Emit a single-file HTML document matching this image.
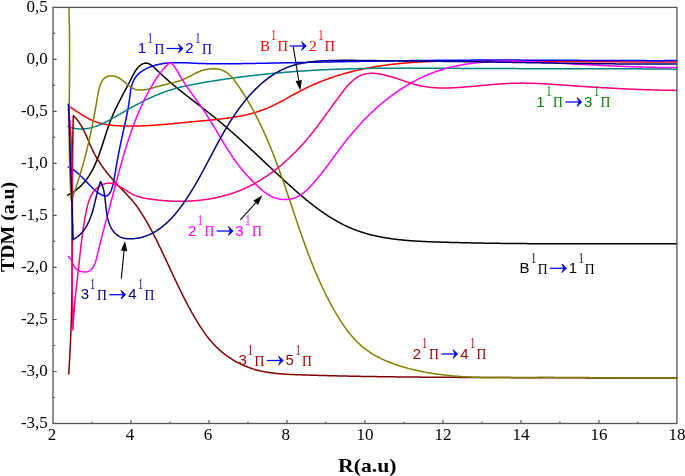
<!DOCTYPE html><html><head><meta charset="utf-8"><style>html,body{margin:0;padding:0;background:#fff;width:685px;height:476px;overflow:hidden}svg{display:block;will-change:transform}</style></head><body>
<svg width="685" height="476" viewBox="0 0 685 476">
<path d="M67.70,195.10L68.65,194.63L69.58,194.15L70.50,193.65L71.40,193.14L72.27,192.61L73.14,192.06L73.98,191.51L74.81,190.94L75.62,190.35L76.41,189.76L77.19,189.15L77.96,188.52L78.70,187.89L79.44,187.24L80.15,186.58L80.86,185.91L81.54,185.22L82.22,184.53L82.88,183.82L83.53,183.10L84.16,182.37L84.78,181.63L85.39,180.88L85.98,180.12L86.57,179.35L87.14,178.58L87.70,177.79L88.25,176.99L88.78,176.18L89.31,175.37L89.82,174.54L90.33,173.71L90.82,172.87L91.31,172.02L91.79,171.16L92.25,170.30L92.71,169.43L93.16,168.55L93.60,167.67L94.03,166.78L94.46,165.88L94.87,164.98L95.28,164.07L95.68,163.15L96.08,162.23L96.47,161.31L96.85,160.38L97.23,159.45L97.60,158.51L97.96,157.56L98.32,156.62L98.68,155.67L99.03,154.71L99.38,153.76L99.72,152.80L100.06,151.83L100.39,150.87L100.72,149.90L101.05,148.93L101.38,147.96L101.70,146.98L102.02,146.01L102.34,145.03L102.66,144.05L102.97,143.08L103.29,142.10L103.60,141.12L103.91,140.14L104.23,139.16L104.54,138.18L104.85,137.20L105.16,136.23L105.48,135.25L105.79,134.27L106.11,133.30L106.43,132.33L106.75,131.36L107.07,130.39L107.39,129.43L107.72,128.47L108.05,127.51L108.38,126.55L108.72,125.60L109.06,124.65L109.40,123.70L109.75,122.76L110.10,121.82L110.46,120.89L110.82,119.96L111.19,119.04L111.56,118.12L111.94,117.21L112.32,116.30L112.71,115.39L113.10,114.49L113.49,113.59L113.89,112.69L114.30,111.80L114.70,110.91L115.12,110.02L115.53,109.13L115.95,108.25L116.37,107.37L116.80,106.49L117.23,105.61L117.66,104.73L118.10,103.86L118.54,102.98L118.98,102.11L119.43,101.23L119.88,100.36L120.33,99.49L120.78,98.61L121.24,97.74L121.69,96.86L122.15,95.99L122.62,95.11L123.08,94.23L123.54,93.35L124.01,92.47L124.48,91.59L124.95,90.71L125.42,89.82L125.90,88.93L126.37,88.04L126.85,87.14L127.32,86.24L127.80,85.34L128.28,84.43L128.75,83.52L129.23,82.61L129.71,81.69L130.19,80.77L130.67,79.85L131.15,78.91L131.63,77.98L132.11,77.04L132.59,76.09L133.07,75.15L133.57,74.22L134.07,73.30L134.58,72.39L135.11,71.49L135.65,70.62L136.21,69.78L136.79,68.97L137.40,68.18L138.03,67.44L138.69,66.74L139.37,66.08L140.10,65.48L140.85,64.92L141.65,64.43L142.48,63.99L143.35,63.63L144.23,63.35L145.13,63.17L146.03,63.10L146.92,63.16L147.79,63.35L148.65,63.64L149.49,64.03L150.32,64.51L151.14,65.06L151.95,65.67L152.75,66.33L153.54,67.02L154.32,67.74L155.09,68.46L155.86,69.19L156.63,69.90L157.38,70.62L158.14,71.32L158.89,72.02L159.64,72.72L160.38,73.40L161.12,74.09L161.86,74.77L162.60,75.44L163.33,76.11L164.06,76.78L164.80,77.44L165.53,78.10L166.27,78.76L167.00,79.41L167.74,80.06L168.47,80.71L169.21,81.36L169.95,82.00L170.70,82.64L171.45,83.29L172.20,83.92L172.95,84.56L173.71,85.20L174.47,85.83L175.23,86.47L176.00,87.10L176.77,87.73L177.54,88.36L178.31,88.99L179.09,89.62L179.86,90.25L180.64,90.87L181.43,91.50L182.21,92.12L183.00,92.75L183.78,93.37L184.57,93.99L185.36,94.62L186.16,95.24L186.95,95.86L187.75,96.48L188.54,97.10L189.34,97.72L190.14,98.34L190.94,98.96L191.74,99.57L192.54,100.19L193.34,100.81L194.14,101.43L194.94,102.05L195.75,102.67L196.55,103.28L197.35,103.90L198.16,104.52L198.96,105.14L199.76,105.76L200.57,106.38L201.37,107.00L202.17,107.62L202.97,108.24L203.77,108.86L204.57,109.48L205.37,110.10L206.17,110.73L206.97,111.35L207.77,111.97L208.56,112.60L209.35,113.23L210.15,113.85L210.94,114.48L211.73,115.11L212.52,115.74L213.30,116.37L214.09,117.00L214.87,117.64L215.65,118.27L216.43,118.91L217.21,119.54L217.98,120.18L218.75,120.82L219.53,121.46L220.30,122.10L221.06,122.75L221.83,123.39L222.60,124.03L223.36,124.68L224.12,125.33L224.88,125.97L225.64,126.62L226.40,127.27L227.15,127.92L227.91,128.58L228.66,129.23L229.41,129.88L230.17,130.54L230.91,131.19L231.66,131.85L232.41,132.50L233.16,133.16L233.90,133.82L234.64,134.48L235.39,135.14L236.13,135.80L236.87,136.47L237.61,137.13L238.35,137.79L239.08,138.46L239.82,139.12L240.56,139.79L241.29,140.46L242.03,141.12L242.76,141.79L243.49,142.46L244.23,143.13L244.96,143.80L245.69,144.47L246.42,145.14L247.15,145.81L247.88,146.49L248.61,147.16L249.33,147.83L250.06,148.51L250.79,149.18L251.52,149.86L252.24,150.53L252.97,151.21L253.70,151.89L254.42,152.56L255.15,153.24L255.87,153.92L256.60,154.60L257.32,155.28L258.05,155.95L258.77,156.63L259.50,157.31L260.22,157.99L260.95,158.67L261.68,159.36L262.40,160.04L263.13,160.72L263.85,161.40L264.58,162.08L265.30,162.77L266.03,163.45L266.76,164.13L267.48,164.81L268.21,165.50L268.94,166.18L269.67,166.86L270.40,167.55L271.13,168.23L271.86,168.92L272.59,169.60L273.32,170.28L274.05,170.97L274.78,171.65L275.51,172.34L276.25,173.02L276.98,173.71L277.72,174.39L278.45,175.07L279.19,175.76L279.93,176.44L280.66,177.13L281.40,177.81L282.14,178.50L282.89,179.18L283.63,179.86L284.37,180.55L285.12,181.23L285.86,181.92L286.61,182.60L287.36,183.28L288.11,183.96L288.86,184.65L289.61,185.33L290.36,186.01L291.11,186.69L291.87,187.36L292.63,188.04L293.38,188.72L294.14,189.39L294.90,190.07L295.67,190.74L296.43,191.41L297.19,192.08L297.96,192.75L298.73,193.41L299.50,194.08L300.27,194.74L301.04,195.40L301.81,196.06L302.59,196.71L303.37,197.37L304.14,198.02L304.92,198.67L305.71,199.31L306.49,199.96L307.27,200.60L308.06,201.24L308.85,201.87L309.64,202.50L310.43,203.13L311.23,203.76L312.02,204.38L312.82,205.01L313.62,205.62L314.42,206.24L315.22,206.85L316.03,207.45L316.84,208.05L317.65,208.65L318.46,209.25L319.27,209.84L320.08,210.43L320.90,211.01L321.72,211.59L322.54,212.16L323.37,212.73L324.19,213.30L325.02,213.86L325.85,214.42L326.68,214.97L327.51,215.52L328.35,216.06L329.19,216.59L330.03,217.13L330.87,217.65L331.72,218.18L332.57,218.69L333.42,219.20L334.27,219.71L335.12,220.21L335.98,220.70L336.84,221.19L337.70,221.67L338.57,222.15L339.44,222.62L340.31,223.09L341.18,223.54L342.05,224.00L342.93,224.44L343.81,224.88L344.69,225.32L345.58,225.74L346.47,226.16L347.36,226.58L348.25,226.98L349.15,227.38L350.05,227.77L350.95,228.16L351.85,228.54L352.76,228.91L353.67,229.27L354.58,229.63L355.50,229.98L356.42,230.32L357.34,230.65L358.26,230.98L359.19,231.30L360.12,231.62L361.05,231.93L361.98,232.23L362.92,232.53L363.86,232.82L364.80,233.10L365.74,233.38L366.69,233.65L367.63,233.91L368.58,234.17L369.54,234.42L370.49,234.67L371.45,234.91L372.40,235.15L373.36,235.38L374.33,235.60L375.29,235.82L376.26,236.03L377.23,236.24L378.20,236.45L379.17,236.65L380.14,236.84L381.12,237.03L382.09,237.21L383.07,237.39L384.05,237.56L385.04,237.73L386.02,237.90L387.00,238.06L387.99,238.21L388.98,238.36L389.97,238.51L390.96,238.65L391.95,238.79L392.95,238.93L393.94,239.06L394.94,239.18L395.93,239.31L396.93,239.43L397.93,239.54L398.93,239.65L399.94,239.76L400.94,239.87L401.94,239.97L402.95,240.07L403.95,240.16L404.96,240.25L405.97,240.34L406.98,240.43L407.99,240.51L409.00,240.59L410.01,240.67L411.02,240.75L412.03,240.82L413.04,240.89L414.06,240.96L415.07,241.02L416.09,241.08L417.10,241.14L418.12,241.20L419.13,241.26L420.15,241.31L421.17,241.37L422.18,241.42L423.20,241.47L424.22,241.51L425.24,241.56L426.25,241.60L427.27,241.65L428.29,241.69L429.31,241.73L430.33,241.77L431.34,241.81L432.36,241.84L433.38,241.88L434.40,241.91L435.42,241.95L436.43,241.98L437.45,242.02L438.47,242.05L439.48,242.08L440.50,242.11L441.52,242.14L442.53,242.17L443.55,242.20L444.56,242.23L445.58,242.26L446.59,242.29L447.61,242.32L448.62,242.35L449.63,242.38L450.65,242.41L451.66,242.43L452.67,242.46L453.68,242.49L454.70,242.51L455.71,242.54L456.72,242.56L457.73,242.59L458.74,242.61L459.75,242.64L460.76,242.66L461.77,242.69L462.78,242.71L463.79,242.73L464.80,242.76L465.81,242.78L466.81,242.80L467.82,242.82L468.83,242.84L469.84,242.87L470.85,242.89L471.85,242.91L472.86,242.93L473.87,242.95L474.87,242.97L475.88,242.99L476.88,243.01L477.89,243.02L478.89,243.04L479.90,243.06L480.90,243.08L481.91,243.10L482.91,243.11L483.92,243.13L484.92,243.15L485.93,243.16L486.93,243.18L487.93,243.20L488.93,243.21L489.94,243.23L490.94,243.24L491.94,243.26L492.95,243.27L493.95,243.29L494.95,243.30L495.95,243.31L496.95,243.33L497.95,243.34L498.95,243.35L499.96,243.37L500.96,243.38L501.96,243.39L502.96,243.40L503.96,243.41L504.96,243.43L505.96,243.44L506.96,243.45L507.96,243.46L508.96,243.47L509.96,243.48L510.96,243.49L511.95,243.50L512.95,243.51L513.95,243.52L514.95,243.53L515.95,243.54L516.95,243.54L517.95,243.55L518.94,243.56L519.94,243.57L520.94,243.58L521.94,243.59L522.93,243.59L523.93,243.60L524.93,243.61L525.93,243.61L526.92,243.62L527.92,243.63L528.92,243.63L529.91,243.64L530.91,243.65L531.91,243.65L532.91,243.66L533.90,243.66L534.90,243.67L535.89,243.67L536.89,243.68L537.89,243.68L538.88,243.69L539.88,243.69L540.88,243.70L541.87,243.70L542.87,243.71L543.86,243.71L544.86,243.71L545.86,243.72L546.85,243.72L547.85,243.72L548.84,243.73L549.84,243.73L550.83,243.73L551.83,243.74L552.82,243.74L553.82,243.74L554.82,243.74L555.81,243.75L556.81,243.75L557.80,243.75L558.80,243.75L559.79,243.75L560.79,243.75L561.78,243.76L562.78,243.76L563.78,243.76L564.77,243.76L565.77,243.76L566.76,243.76L567.76,243.76L568.75,243.76L569.75,243.77L570.74,243.77L571.74,243.77L572.73,243.77L573.73,243.77L574.73,243.77L575.72,243.77L576.72,243.77L577.71,243.77L578.71,243.77L579.71,243.77L580.70,243.77L581.70,243.77L582.69,243.77L583.69,243.77L584.69,243.77L585.68,243.77L586.68,243.77L587.68,243.77L588.67,243.77L589.67,243.76L590.66,243.76L591.66,243.76L592.66,243.76L593.66,243.76L594.65,243.76L595.65,243.76L596.65,243.76L597.64,243.76L598.64,243.76L599.64,243.76L600.64,243.76L601.63,243.76L602.63,243.75L603.63,243.75L604.63,243.75L605.63,243.75L606.63,243.75L607.62,243.75L608.62,243.75L609.62,243.75L610.62,243.75L611.62,243.75L612.62,243.74L613.62,243.74L614.62,243.74L615.62,243.74L616.62,243.74L617.62,243.74L618.62,243.74L619.62,243.74L620.62,243.74L621.62,243.74L622.62,243.74L623.62,243.73L624.62,243.73L625.62,243.73L626.62,243.73L627.63,243.73L628.63,243.73L629.63,243.73L630.63,243.73L631.63,243.73L632.64,243.73L633.64,243.73L634.64,243.73L635.65,243.73L636.65,243.73L637.65,243.73L638.66,243.73L639.66,243.73L640.67,243.73L641.67,243.73L642.68,243.73L643.68,243.73L644.69,243.73L645.69,243.73L646.70,243.73L647.70,243.73L648.71,243.73L649.72,243.73L650.72,243.73L651.73,243.74L652.74,243.74L653.75,243.74L654.75,243.74L655.76,243.74L656.77,243.74L657.78,243.74L658.79,243.75L659.80,243.75L660.81,243.75L661.82,243.75L662.83,243.75L663.84,243.76L664.85,243.76L665.86,243.76L666.87,243.76L667.88,243.77L668.89,243.77L669.91,243.77L670.92,243.78L671.93,243.78L672.95,243.78L673.96,243.79L674.97,243.79L675.99,243.80L677.00,243.80" fill="none" stroke="#000000" stroke-width="1.5" stroke-linejoin="round" stroke-linecap="round"/>
<path d="M69.70,106.80L70.55,107.35L71.39,107.90L72.24,108.46L73.08,109.02L73.93,109.58L74.78,110.14L75.63,110.70L76.48,111.26L77.33,111.83L78.18,112.38L79.03,112.94L79.89,113.49L80.75,114.04L81.61,114.58L82.47,115.12L83.33,115.64L84.20,116.17L85.07,116.68L85.95,117.18L86.83,117.67L87.71,118.15L88.59,118.62L89.48,119.08L90.38,119.52L91.28,119.95L92.18,120.36L93.09,120.76L94.00,121.14L94.92,121.50L95.84,121.84L96.77,122.17L97.70,122.48L98.64,122.77L99.58,123.04L100.53,123.30L101.48,123.54L102.44,123.77L103.40,123.98L104.36,124.18L105.33,124.36L106.30,124.53L107.27,124.69L108.25,124.84L109.23,124.97L110.21,125.10L111.19,125.21L112.18,125.31L113.17,125.41L114.16,125.50L115.15,125.57L116.14,125.64L117.13,125.71L118.13,125.76L119.12,125.81L120.12,125.86L121.11,125.90L122.11,125.93L123.11,125.96L124.10,125.99L125.10,126.01L126.10,126.03L127.09,126.05L128.09,126.06L129.08,126.06L130.08,126.07L131.08,126.07L132.07,126.06L133.07,126.06L134.07,126.05L135.06,126.03L136.06,126.01L137.06,125.99L138.05,125.97L139.05,125.94L140.05,125.91L141.04,125.88L142.04,125.85L143.04,125.81L144.03,125.77L145.03,125.72L146.03,125.68L147.02,125.63L148.02,125.57L149.02,125.52L150.02,125.46L151.01,125.40L152.01,125.34L153.01,125.28L154.01,125.21L155.01,125.15L156.00,125.08L157.00,125.01L158.00,124.93L159.00,124.86L160.00,124.78L161.00,124.70L161.99,124.62L162.99,124.54L163.99,124.46L164.99,124.37L165.99,124.29L166.99,124.20L167.99,124.11L168.99,124.02L169.99,123.93L170.99,123.84L171.99,123.75L172.99,123.65L173.99,123.56L175.00,123.46L176.00,123.37L177.00,123.27L178.00,123.17L179.00,123.08L180.00,122.98L181.01,122.88L182.01,122.78L183.01,122.68L184.01,122.59L185.02,122.49L186.02,122.39L187.02,122.29L188.03,122.19L189.03,122.09L190.04,121.99L191.04,121.89L192.05,121.80L193.05,121.70L194.06,121.60L195.06,121.50L196.07,121.41L197.07,121.31L198.08,121.22L199.09,121.13L200.09,121.03L201.10,120.94L202.11,120.85L203.12,120.75L204.12,120.66L205.13,120.57L206.14,120.47L207.14,120.38L208.15,120.28L209.16,120.19L210.16,120.09L211.17,119.99L212.17,119.89L213.18,119.79L214.18,119.69L215.19,119.59L216.19,119.48L217.20,119.38L218.20,119.27L219.20,119.16L220.20,119.05L221.20,118.93L222.20,118.81L223.20,118.69L224.20,118.57L225.19,118.44L226.19,118.32L227.19,118.18L228.18,118.05L229.17,117.91L230.16,117.77L231.16,117.62L232.14,117.47L233.13,117.32L234.12,117.16L235.10,117.00L236.09,116.83L237.07,116.66L238.05,116.49L239.03,116.31L240.01,116.12L240.99,115.93L241.96,115.74L242.93,115.54L243.91,115.33L244.88,115.12L245.84,114.91L246.81,114.68L247.77,114.45L248.74,114.22L249.70,113.98L250.65,113.73L251.61,113.48L252.56,113.22L253.51,112.95L254.46,112.68L255.41,112.40L256.36,112.11L257.30,111.82L258.24,111.52L259.18,111.21L260.11,110.89L261.04,110.57L261.97,110.23L262.90,109.89L263.83,109.54L264.75,109.19L265.67,108.82L266.58,108.45L267.50,108.07L268.41,107.67L269.32,107.28L270.22,106.87L271.13,106.46L272.03,106.03L272.93,105.61L273.83,105.17L274.72,104.73L275.62,104.29L276.51,103.84L277.40,103.38L278.29,102.92L279.18,102.46L280.07,101.99L280.95,101.52L281.84,101.04L282.73,100.56L283.61,100.08L284.50,99.60L285.38,99.11L286.26,98.62L287.15,98.14L288.03,97.65L288.92,97.16L289.80,96.67L290.69,96.18L291.58,95.69L292.46,95.20L293.35,94.71L294.24,94.22L295.13,93.74L296.02,93.26L296.92,92.78L297.81,92.30L298.71,91.82L299.61,91.35L300.51,90.89L301.41,90.42L302.31,89.96L303.22,89.51L304.13,89.06L305.04,88.61L305.95,88.16L306.86,87.72L307.78,87.29L308.69,86.86L309.61,86.43L310.53,86.01L311.46,85.59L312.38,85.17L313.30,84.76L314.23,84.36L315.16,83.95L316.09,83.55L317.02,83.16L317.95,82.77L318.89,82.38L319.82,82.00L320.76,81.62L321.69,81.25L322.63,80.88L323.57,80.52L324.51,80.16L325.45,79.80L326.40,79.45L327.34,79.10L328.28,78.76L329.23,78.42L330.18,78.08L331.12,77.75L332.07,77.43L333.02,77.10L333.97,76.78L334.92,76.47L335.87,76.16L336.82,75.86L337.78,75.55L338.73,75.26L339.69,74.96L340.64,74.67L341.60,74.39L342.56,74.11L343.51,73.83L344.47,73.55L345.43,73.28L346.39,73.02L347.35,72.75L348.32,72.50L349.28,72.24L350.24,71.99L351.21,71.74L352.17,71.50L353.14,71.26L354.10,71.02L355.07,70.79L356.04,70.56L357.01,70.33L357.98,70.11L358.95,69.89L359.92,69.68L360.89,69.46L361.86,69.25L362.83,69.05L363.81,68.85L364.78,68.65L365.76,68.45L366.73,68.26L367.71,68.07L368.68,67.89L369.66,67.70L370.64,67.52L371.62,67.35L372.60,67.17L373.58,67.00L374.56,66.84L375.54,66.67L376.52,66.51L377.50,66.35L378.48,66.20L379.47,66.05L380.45,65.90L381.44,65.75L382.42,65.61L383.41,65.47L384.39,65.33L385.38,65.19L386.36,65.06L387.35,64.93L388.34,64.81L389.33,64.68L390.32,64.56L391.31,64.44L392.30,64.32L393.29,64.21L394.28,64.10L395.27,63.99L396.26,63.88L397.25,63.78L398.25,63.68L399.24,63.58L400.23,63.48L401.23,63.39L402.22,63.29L403.22,63.20L404.21,63.12L405.21,63.03L406.20,62.95L407.20,62.87L408.20,62.79L409.20,62.71L410.19,62.64L411.19,62.56L412.19,62.49L413.19,62.42L414.19,62.36L415.19,62.29L416.19,62.23L417.19,62.17L418.19,62.11L419.19,62.05L420.19,62.00L421.19,61.95L422.19,61.89L423.19,61.84L424.19,61.80L425.20,61.75L426.20,61.71L427.20,61.66L428.20,61.62L429.21,61.58L430.21,61.54L431.22,61.51L432.22,61.47L433.22,61.44L434.23,61.41L435.23,61.37L436.24,61.34L437.24,61.32L438.25,61.29L439.25,61.27L440.26,61.24L441.26,61.22L442.27,61.20L443.28,61.18L444.28,61.16L445.29,61.14L446.30,61.12L447.30,61.11L448.31,61.09L449.32,61.08L450.32,61.07L451.33,61.06L452.34,61.05L453.34,61.04L454.35,61.03L455.36,61.02L456.37,61.01L457.37,61.01L458.38,61.00L459.39,61.00L460.40,60.99L461.40,60.99L462.41,60.99L463.42,60.99L464.43,60.99L465.43,60.99L466.44,60.99L467.45,60.99L468.46,60.99L469.47,60.99L470.47,61.00L471.48,61.00L472.49,61.00L473.50,61.01L474.50,61.01L475.51,61.02L476.52,61.02L477.53,61.03L478.53,61.03L479.54,61.04L480.55,61.05L481.56,61.05L482.56,61.06L483.57,61.07L484.58,61.07L485.58,61.08L486.59,61.09L487.60,61.10L488.60,61.10L489.61,61.11L490.61,61.12L491.62,61.13L492.63,61.13L493.63,61.14L494.64,61.15L495.64,61.16L496.65,61.16L497.65,61.17L498.66,61.18L499.66,61.19L500.67,61.19L501.67,61.20L502.68,61.21L503.68,61.21L504.68,61.22L505.69,61.23L506.69,61.24L507.70,61.24L508.70,61.25L509.70,61.26L510.71,61.26L511.71,61.27L512.71,61.28L513.72,61.28L514.72,61.29L515.72,61.30L516.72,61.30L517.73,61.31L518.73,61.32L519.73,61.32L520.73,61.33L521.74,61.34L522.74,61.34L523.74,61.35L524.74,61.36L525.74,61.36L526.74,61.37L527.75,61.38L528.75,61.38L529.75,61.39L530.75,61.39L531.75,61.40L532.75,61.41L533.75,61.41L534.76,61.42L535.76,61.43L536.76,61.43L537.76,61.44L538.76,61.44L539.76,61.45L540.76,61.46L541.76,61.46L542.76,61.47L543.76,61.47L544.76,61.48L545.76,61.49L546.76,61.49L547.76,61.50L548.76,61.50L549.76,61.51L550.76,61.52L551.76,61.52L552.76,61.53L553.76,61.53L554.76,61.54L555.76,61.54L556.76,61.55L557.76,61.56L558.76,61.56L559.76,61.57L560.76,61.57L561.76,61.58L562.76,61.58L563.76,61.59L564.76,61.59L565.76,61.60L566.76,61.61L567.76,61.61L568.76,61.62L569.76,61.62L570.76,61.63L571.76,61.63L572.76,61.64L573.76,61.64L574.76,61.65L575.76,61.65L576.76,61.66L577.75,61.66L578.75,61.67L579.75,61.67L580.75,61.68L581.75,61.68L582.75,61.69L583.75,61.70L584.75,61.70L585.75,61.71L586.75,61.71L587.75,61.72L588.75,61.72L589.75,61.73L590.75,61.73L591.75,61.74L592.75,61.74L593.75,61.74L594.75,61.75L595.75,61.75L596.75,61.76L597.75,61.76L598.75,61.77L599.75,61.77L600.75,61.78L601.75,61.78L602.75,61.79L603.75,61.79L604.75,61.80L605.75,61.80L606.75,61.81L607.75,61.81L608.75,61.82L609.75,61.82L610.75,61.83L611.75,61.83L612.75,61.83L613.75,61.84L614.75,61.84L615.75,61.85L616.75,61.85L617.75,61.86L618.76,61.86L619.76,61.87L620.76,61.87L621.76,61.88L622.76,61.88L623.76,61.88L624.76,61.89L625.77,61.89L626.77,61.90L627.77,61.90L628.77,61.91L629.77,61.91L630.77,61.91L631.78,61.92L632.78,61.92L633.78,61.93L634.78,61.93L635.79,61.94L636.79,61.94L637.79,61.94L638.79,61.95L639.80,61.95L640.80,61.96L641.80,61.96L642.81,61.97L643.81,61.97L644.81,61.97L645.82,61.98L646.82,61.98L647.83,61.99L648.83,61.99L649.83,61.99L650.84,62.00L651.84,62.00L652.85,62.01L653.85,62.01L654.86,62.01L655.86,62.02L656.87,62.02L657.87,62.03L658.88,62.03L659.88,62.03L660.89,62.04L661.89,62.04L662.90,62.05L663.91,62.05L664.91,62.05L665.92,62.06L666.93,62.06L667.93,62.07L668.94,62.07L669.95,62.07L670.95,62.08L671.96,62.08L672.97,62.08L673.98,62.09L674.98,62.09L675.99,62.10L677.00,62.10" fill="none" stroke="#FF0000" stroke-width="1.5" stroke-linejoin="round" stroke-linecap="round"/>
<path d="M68.40,167.10L69.24,167.44L70.08,167.82L70.91,168.23L71.73,168.69L72.54,169.17L73.34,169.69L74.14,170.24L74.94,170.81L75.72,171.42L76.50,172.04L77.28,172.70L78.05,173.37L78.81,174.06L79.58,174.77L80.33,175.50L81.09,176.23L81.84,176.99L82.59,177.75L83.34,178.52L84.09,179.30L84.83,180.08L85.58,180.87L86.32,181.66L87.06,182.45L87.81,183.23L88.55,184.01L89.30,184.79L90.04,185.56L90.79,186.32L91.54,187.07L92.30,187.80L93.05,188.53L93.81,189.23L94.58,189.92L95.34,190.58L96.12,191.23L96.89,191.85L97.68,192.44L98.47,193.01L99.26,193.55L100.06,194.05L100.85,194.52L101.65,194.93L102.43,195.28L103.20,195.57L103.96,195.78L104.70,195.92L105.42,195.96L106.11,195.92L106.77,195.77L107.40,195.51L108.00,195.14L108.56,194.67L109.08,194.10L109.58,193.44L110.05,192.70L110.48,191.89L110.89,191.02L111.28,190.09L111.64,189.11L111.97,188.10L112.29,187.06L112.59,186.00L112.86,184.92L113.12,183.84L113.37,182.76L113.60,181.69L113.82,180.63L114.02,179.57L114.22,178.52L114.41,177.47L114.59,176.43L114.77,175.39L114.94,174.36L115.11,173.33L115.27,172.30L115.44,171.28L115.61,170.26L115.78,169.25L115.95,168.23L116.12,167.22L116.29,166.22L116.47,165.21L116.64,164.21L116.82,163.22L117.00,162.22L117.18,161.23L117.36,160.24L117.54,159.25L117.73,158.26L117.91,157.28L118.10,156.29L118.28,155.31L118.47,154.34L118.66,153.36L118.85,152.38L119.05,151.41L119.24,150.44L119.43,149.47L119.63,148.50L119.82,147.53L120.02,146.56L120.22,145.60L120.42,144.63L120.62,143.67L120.82,142.71L121.02,141.74L121.23,140.78L121.43,139.82L121.64,138.86L121.84,137.90L122.05,136.94L122.26,135.98L122.47,135.02L122.68,134.06L122.89,133.10L123.10,132.14L123.31,131.18L123.53,130.21L123.74,129.25L123.96,128.29L124.17,127.33L124.39,126.36L124.60,125.40L124.82,124.43L125.03,123.47L125.25,122.50L125.46,121.53L125.67,120.56L125.88,119.58L126.09,118.61L126.30,117.63L126.50,116.65L126.71,115.67L126.91,114.69L127.10,113.70L127.30,112.71L127.49,111.72L127.68,110.72L127.86,109.72L128.04,108.72L128.22,107.71L128.39,106.70L128.55,105.69L128.72,104.68L128.87,103.66L129.03,102.63L129.17,101.60L129.31,100.57L129.45,99.53L129.58,98.49L129.71,97.45L129.84,96.41L129.98,95.37L130.12,94.33L130.26,93.30L130.41,92.27L130.57,91.24L130.74,90.23L130.93,89.22L131.13,88.22L131.35,87.23L131.59,86.26L131.84,85.30L132.12,84.35L132.43,83.42L132.76,82.51L133.12,81.61L133.51,80.74L133.93,79.88L134.38,79.05L134.87,78.24L135.40,77.46L135.96,76.70L136.55,75.96L137.18,75.25L137.84,74.56L138.53,73.90L139.24,73.25L139.98,72.63L140.75,72.03L141.54,71.45L142.35,70.90L143.18,70.36L144.04,69.85L144.91,69.36L145.80,68.89L146.70,68.44L147.62,68.00L148.55,67.59L149.49,67.20L150.44,66.83L151.40,66.47L152.37,66.13L153.34,65.82L154.32,65.52L155.30,65.24L156.28,64.97L157.26,64.72L158.25,64.49L159.23,64.28L160.22,64.08L161.20,63.90L162.19,63.73L163.18,63.57L164.17,63.43L165.16,63.30L166.15,63.19L167.15,63.09L168.14,62.99L169.13,62.91L170.13,62.85L171.13,62.79L172.12,62.74L173.12,62.70L174.12,62.67L175.12,62.65L176.12,62.63L177.12,62.63L178.12,62.63L179.12,62.64L180.12,62.65L181.12,62.67L182.12,62.69L183.13,62.72L184.13,62.75L185.13,62.79L186.14,62.83L187.14,62.87L188.14,62.92L189.15,62.96L190.15,63.01L191.16,63.06L192.16,63.11L193.17,63.16L194.17,63.21L195.18,63.26L196.18,63.30L197.18,63.34L198.19,63.39L199.19,63.43L200.20,63.46L201.20,63.50L202.20,63.53L203.21,63.56L204.21,63.59L205.21,63.62L206.22,63.64L207.22,63.66L208.22,63.69L209.22,63.71L210.23,63.72L211.23,63.74L212.23,63.75L213.23,63.77L214.24,63.78L215.24,63.79L216.24,63.80L217.24,63.80L218.25,63.81L219.25,63.81L220.25,63.81L221.25,63.81L222.25,63.81L223.25,63.81L224.26,63.81L225.26,63.81L226.26,63.80L227.26,63.80L228.26,63.79L229.26,63.78L230.27,63.77L231.27,63.77L232.27,63.75L233.27,63.74L234.27,63.73L235.27,63.72L236.27,63.71L237.27,63.69L238.27,63.68L239.28,63.66L240.28,63.65L241.28,63.63L242.28,63.62L243.28,63.60L244.28,63.58L245.28,63.56L246.28,63.55L247.28,63.53L248.28,63.51L249.28,63.49L250.29,63.48L251.29,63.46L252.29,63.44L253.29,63.42L254.29,63.40L255.29,63.38L256.29,63.37L257.29,63.35L258.29,63.33L259.29,63.31L260.30,63.29L261.30,63.27L262.30,63.25L263.30,63.23L264.30,63.22L265.30,63.20L266.30,63.18L267.30,63.16L268.30,63.14L269.31,63.12L270.31,63.10L271.31,63.08L272.31,63.06L273.31,63.04L274.31,63.03L275.31,63.01L276.31,62.99L277.32,62.97L278.32,62.95L279.32,62.93L280.32,62.91L281.32,62.89L282.32,62.87L283.32,62.85L284.32,62.83L285.32,62.81L286.33,62.79L287.33,62.77L288.33,62.75L289.33,62.74L290.33,62.72L291.33,62.70L292.33,62.68L293.33,62.66L294.34,62.64L295.34,62.62L296.34,62.60L297.34,62.58L298.34,62.56L299.34,62.54L300.34,62.52L301.35,62.50L302.35,62.48L303.35,62.46L304.35,62.44L305.35,62.42L306.35,62.40L307.35,62.38L308.36,62.36L309.36,62.35L310.36,62.33L311.36,62.31L312.36,62.29L313.36,62.27L314.36,62.25L315.37,62.23L316.37,62.21L317.37,62.19L318.37,62.17L319.37,62.15L320.37,62.13L321.37,62.11L322.38,62.09L323.38,62.07L324.38,62.05L325.38,62.04L326.38,62.02L327.38,62.00L328.38,61.98L329.39,61.96L330.39,61.94L331.39,61.92L332.39,61.90L333.39,61.88L334.39,61.86L335.40,61.85L336.40,61.83L337.40,61.81L338.40,61.79L339.40,61.77L340.40,61.75L341.40,61.73L342.41,61.71L343.41,61.70L344.41,61.68L345.41,61.66L346.41,61.64L347.41,61.62L348.42,61.60L349.42,61.59L350.42,61.57L351.42,61.55L352.42,61.53L353.42,61.51L354.43,61.50L355.43,61.48L356.43,61.46L357.43,61.44L358.43,61.42L359.43,61.41L360.44,61.39L361.44,61.37L362.44,61.36L363.44,61.34L364.44,61.32L365.44,61.30L366.45,61.29L367.45,61.27L368.45,61.25L369.45,61.24L370.45,61.22L371.45,61.20L372.46,61.19L373.46,61.17L374.46,61.15L375.46,61.14L376.46,61.12L377.46,61.10L378.47,61.09L379.47,61.07L380.47,61.06L381.47,61.04L382.47,61.02L383.47,61.01L384.48,60.99L385.48,60.98L386.48,60.96L387.48,60.95L388.48,60.93L389.49,60.92L390.49,60.90L391.49,60.89L392.49,60.87L393.49,60.86L394.49,60.84L395.50,60.83L396.50,60.81L397.50,60.80L398.50,60.78L399.50,60.77L400.50,60.76L401.51,60.74L402.51,60.73L403.51,60.72L404.51,60.70L405.51,60.69L406.52,60.68L407.52,60.66L408.52,60.65L409.52,60.64L410.52,60.62L411.52,60.61L412.53,60.60L413.53,60.59L414.53,60.57L415.53,60.56L416.53,60.55L417.53,60.54L418.54,60.53L419.54,60.51L420.54,60.50L421.54,60.49L422.54,60.48L423.55,60.47L424.55,60.46L425.55,60.45L426.55,60.44L427.55,60.43L428.55,60.42L429.56,60.41L430.56,60.40L431.56,60.39L432.56,60.38L433.56,60.37L434.57,60.36L435.57,60.35L436.57,60.34L437.57,60.33L438.57,60.32L439.57,60.31L440.58,60.30L441.58,60.30L442.58,60.29L443.58,60.28L444.58,60.27L445.59,60.26L446.59,60.26L447.59,60.25L448.59,60.24L449.59,60.23L450.59,60.23L451.60,60.22L452.60,60.21L453.60,60.21L454.60,60.20L455.60,60.20L456.61,60.19L457.61,60.18L458.61,60.18L459.61,60.17L460.61,60.17L461.61,60.16L462.62,60.16L463.62,60.15L464.62,60.15L465.62,60.14L466.62,60.14L467.63,60.14L468.63,60.13L469.63,60.13L470.63,60.13L471.63,60.12L472.63,60.12L473.64,60.12L474.64,60.11L475.64,60.11L476.64,60.11L477.64,60.11L478.65,60.10L479.65,60.10L480.65,60.10L481.65,60.10L482.65,60.10L483.65,60.09L484.66,60.09L485.66,60.09L486.66,60.09L487.66,60.09L488.66,60.09L489.67,60.09L490.67,60.09L491.67,60.09L492.67,60.09L493.67,60.09L494.67,60.09L495.68,60.09L496.68,60.09L497.68,60.09L498.68,60.09L499.68,60.09L500.68,60.09L501.69,60.09L502.69,60.09L503.69,60.09L504.69,60.09L505.69,60.09L506.70,60.10L507.70,60.10L508.70,60.10L509.70,60.10L510.70,60.10L511.70,60.10L512.71,60.11L513.71,60.11L514.71,60.11L515.71,60.11L516.71,60.12L517.72,60.12L518.72,60.12L519.72,60.12L520.72,60.13L521.72,60.13L522.72,60.13L523.73,60.13L524.73,60.14L525.73,60.14L526.73,60.14L527.73,60.15L528.73,60.15L529.74,60.15L530.74,60.16L531.74,60.16L532.74,60.16L533.74,60.17L534.75,60.17L535.75,60.18L536.75,60.18L537.75,60.18L538.75,60.19L539.75,60.19L540.76,60.20L541.76,60.20L542.76,60.20L543.76,60.21L544.76,60.21L545.76,60.22L546.77,60.22L547.77,60.23L548.77,60.23L549.77,60.24L550.77,60.24L551.78,60.24L552.78,60.25L553.78,60.25L554.78,60.26L555.78,60.26L556.78,60.27L557.79,60.27L558.79,60.28L559.79,60.28L560.79,60.29L561.79,60.29L562.79,60.30L563.80,60.30L564.80,60.31L565.80,60.31L566.80,60.32L567.80,60.32L568.81,60.33L569.81,60.33L570.81,60.34L571.81,60.34L572.81,60.35L573.81,60.35L574.82,60.36L575.82,60.36L576.82,60.37L577.82,60.37L578.82,60.38L579.83,60.38L580.83,60.39L581.83,60.39L582.83,60.40L583.83,60.40L584.83,60.41L585.84,60.41L586.84,60.42L587.84,60.42L588.84,60.43L589.84,60.43L590.84,60.44L591.85,60.44L592.85,60.45L593.85,60.45L594.85,60.46L595.85,60.46L596.86,60.47L597.86,60.47L598.86,60.48L599.86,60.48L600.86,60.49L601.86,60.49L602.87,60.49L603.87,60.50L604.87,60.50L605.87,60.51L606.87,60.51L607.88,60.52L608.88,60.52L609.88,60.52L610.88,60.53L611.88,60.53L612.88,60.54L613.89,60.54L614.89,60.54L615.89,60.55L616.89,60.55L617.89,60.56L618.89,60.56L619.90,60.56L620.90,60.57L621.90,60.57L622.90,60.57L623.90,60.58L624.91,60.58L625.91,60.58L626.91,60.59L627.91,60.59L628.91,60.59L629.91,60.59L630.92,60.60L631.92,60.60L632.92,60.60L633.92,60.60L634.92,60.61L635.93,60.61L636.93,60.61L637.93,60.61L638.93,60.61L639.93,60.62L640.93,60.62L641.94,60.62L642.94,60.62L643.94,60.62L644.94,60.62L645.94,60.62L646.95,60.63L647.95,60.63L648.95,60.63L649.95,60.63L650.95,60.63L651.95,60.63L652.96,60.63L653.96,60.63L654.96,60.63L655.96,60.63L656.96,60.63L657.97,60.63L658.97,60.63L659.97,60.63L660.97,60.63L661.97,60.63L662.97,60.63L663.98,60.63L664.98,60.62L665.98,60.62L666.98,60.62L667.98,60.62L668.99,60.62L669.99,60.62L670.99,60.61L671.99,60.61L672.99,60.61L673.99,60.61L675.00,60.60L676.00,60.60L677.00,60.60" fill="none" stroke="#0000FF" stroke-width="1.5" stroke-linejoin="round" stroke-linecap="round"/>
<path d="M68.00,126.50L69.05,126.87L70.09,127.21L71.12,127.52L72.15,127.79L73.17,128.04L74.18,128.25L75.19,128.44L76.19,128.59L77.19,128.72L78.18,128.82L79.17,128.89L80.14,128.94L81.12,128.96L82.09,128.95L83.05,128.92L84.01,128.87L84.96,128.79L85.91,128.69L86.86,128.57L87.80,128.42L88.73,128.26L89.67,128.07L90.59,127.87L91.52,127.65L92.44,127.40L93.36,127.14L94.27,126.87L95.18,126.57L96.09,126.26L96.99,125.94L97.89,125.60L98.79,125.24L99.68,124.87L100.58,124.49L101.47,124.10L102.36,123.70L103.24,123.28L104.13,122.85L105.01,122.42L105.89,121.97L106.77,121.52L107.65,121.06L108.52,120.59L109.40,120.11L110.27,119.63L111.15,119.15L112.02,118.65L112.89,118.16L113.76,117.66L114.63,117.15L115.50,116.65L116.38,116.14L117.25,115.63L118.12,115.12L118.99,114.62L119.86,114.11L120.73,113.60L121.61,113.09L122.48,112.59L123.36,112.08L124.23,111.58L125.11,111.08L125.98,110.58L126.86,110.08L127.74,109.58L128.62,109.08L129.50,108.59L130.38,108.10L131.26,107.61L132.14,107.12L133.02,106.64L133.91,106.15L134.79,105.67L135.68,105.19L136.57,104.72L137.45,104.24L138.34,103.77L139.23,103.31L140.13,102.84L141.02,102.38L141.91,101.93L142.81,101.47L143.71,101.02L144.60,100.58L145.50,100.13L146.40,99.69L147.31,99.26L148.21,98.83L149.12,98.40L150.02,97.98L150.93,97.56L151.84,97.15L152.75,96.74L153.67,96.33L154.58,95.93L155.50,95.54L156.42,95.15L157.34,94.77L158.26,94.39L159.18,94.01L160.11,93.65L161.04,93.28L161.97,92.93L162.90,92.58L163.83,92.23L164.77,91.89L165.70,91.56L166.64,91.23L167.59,90.91L168.53,90.60L169.48,90.29L170.42,89.99L171.38,89.70L172.33,89.41L173.28,89.13L174.24,88.85L175.20,88.58L176.16,88.31L177.12,88.05L178.08,87.80L179.05,87.55L180.02,87.31L180.98,87.07L181.95,86.83L182.93,86.60L183.90,86.38L184.87,86.16L185.85,85.94L186.83,85.73L187.80,85.52L188.78,85.31L189.76,85.11L190.74,84.91L191.72,84.71L192.71,84.51L193.69,84.32L194.68,84.13L195.66,83.95L196.65,83.76L197.63,83.58L198.62,83.40L199.61,83.22L200.59,83.05L201.58,82.87L202.57,82.70L203.56,82.53L204.55,82.36L205.54,82.19L206.53,82.02L207.52,81.86L208.51,81.70L209.50,81.53L210.49,81.37L211.49,81.21L212.48,81.06L213.47,80.90L214.46,80.75L215.46,80.59L216.45,80.44L217.44,80.29L218.44,80.14L219.43,79.99L220.43,79.84L221.42,79.70L222.41,79.55L223.41,79.41L224.40,79.27L225.40,79.12L226.39,78.98L227.38,78.84L228.38,78.70L229.37,78.56L230.37,78.43L231.36,78.29L232.36,78.15L233.35,78.02L234.35,77.88L235.34,77.75L236.34,77.62L237.33,77.48L238.32,77.35L239.32,77.22L240.31,77.09L241.31,76.97L242.30,76.84L243.30,76.71L244.29,76.59L245.29,76.46L246.28,76.34L247.28,76.22L248.27,76.10L249.27,75.97L250.26,75.85L251.26,75.74L252.25,75.62L253.25,75.50L254.24,75.38L255.24,75.27L256.23,75.16L257.23,75.04L258.22,74.93L259.22,74.82L260.21,74.71L261.21,74.60L262.20,74.49L263.20,74.38L264.20,74.28L265.19,74.17L266.19,74.07L267.18,73.97L268.18,73.86L269.18,73.76L270.17,73.66L271.17,73.56L272.16,73.47L273.16,73.37L274.16,73.27L275.15,73.18L276.15,73.08L277.15,72.99L278.14,72.90L279.14,72.81L280.14,72.72L281.13,72.63L282.13,72.54L283.13,72.46L284.12,72.37L285.12,72.29L286.12,72.20L287.12,72.12L288.11,72.04L289.11,71.96L290.11,71.88L291.11,71.80L292.11,71.73L293.10,71.65L294.10,71.58L295.10,71.50L296.10,71.43L297.10,71.36L298.09,71.29L299.09,71.22L300.09,71.15L301.09,71.08L302.09,71.01L303.09,70.95L304.09,70.88L305.09,70.82L306.08,70.76L307.08,70.69L308.08,70.63L309.08,70.57L310.08,70.51L311.08,70.45L312.08,70.40L313.08,70.34L314.08,70.28L315.08,70.23L316.08,70.17L317.08,70.12L318.08,70.07L319.08,70.02L320.08,69.97L321.08,69.92L322.08,69.87L323.08,69.82L324.08,69.77L325.08,69.73L326.08,69.68L327.08,69.64L328.08,69.59L329.08,69.55L330.08,69.51L331.08,69.47L332.08,69.42L333.08,69.38L334.09,69.35L335.09,69.31L336.09,69.27L337.09,69.23L338.09,69.20L339.09,69.16L340.09,69.13L341.09,69.09L342.09,69.06L343.10,69.03L344.10,68.99L345.10,68.96L346.10,68.93L347.10,68.90L348.10,68.87L349.11,68.84L350.11,68.82L351.11,68.79L352.11,68.76L353.11,68.74L354.12,68.71L355.12,68.69L356.12,68.66L357.12,68.64L358.12,68.62L359.13,68.59L360.13,68.57L361.13,68.55L362.13,68.53L363.14,68.51L364.14,68.49L365.14,68.47L366.14,68.46L367.15,68.44L368.15,68.42L369.15,68.41L370.15,68.39L371.16,68.37L372.16,68.36L373.16,68.34L374.16,68.33L375.17,68.32L376.17,68.31L377.17,68.29L378.18,68.28L379.18,68.27L380.18,68.26L381.18,68.25L382.19,68.24L383.19,68.23L384.19,68.22L385.20,68.21L386.20,68.20L387.20,68.20L388.21,68.19L389.21,68.18L390.21,68.18L391.22,68.17L392.22,68.16L393.22,68.16L394.23,68.15L395.23,68.15L396.23,68.15L397.24,68.14L398.24,68.14L399.24,68.14L400.25,68.13L401.25,68.13L402.25,68.13L403.26,68.13L404.26,68.13L405.26,68.13L406.27,68.12L407.27,68.12L408.27,68.12L409.28,68.12L410.28,68.13L411.29,68.13L412.29,68.13L413.29,68.13L414.30,68.13L415.30,68.13L416.30,68.13L417.31,68.14L418.31,68.14L419.32,68.14L420.32,68.15L421.32,68.15L422.33,68.15L423.33,68.16L424.33,68.16L425.34,68.16L426.34,68.17L427.35,68.17L428.35,68.18L429.35,68.18L430.36,68.19L431.36,68.19L432.36,68.20L433.37,68.20L434.37,68.21L435.37,68.21L436.38,68.22L437.38,68.23L438.39,68.23L439.39,68.24L440.39,68.25L441.40,68.25L442.40,68.26L443.40,68.26L444.41,68.27L445.41,68.28L446.42,68.28L447.42,68.29L448.42,68.30L449.43,68.31L450.43,68.31L451.43,68.32L452.44,68.33L453.44,68.33L454.44,68.34L455.45,68.35L456.45,68.35L457.45,68.36L458.46,68.37L459.46,68.37L460.47,68.38L461.47,68.39L462.47,68.40L463.48,68.40L464.48,68.41L465.48,68.42L466.49,68.42L467.49,68.43L468.49,68.44L469.50,68.44L470.50,68.45L471.50,68.45L472.50,68.46L473.51,68.47L474.51,68.47L475.51,68.48L476.52,68.48L477.52,68.49L478.52,68.49L479.53,68.50L480.53,68.51L481.53,68.51L482.54,68.52L483.54,68.52L484.54,68.52L485.54,68.53L486.55,68.53L487.55,68.54L488.55,68.54L489.55,68.55L490.56,68.55L491.56,68.55L492.56,68.56L493.57,68.56L494.57,68.57L495.57,68.57L496.57,68.57L497.58,68.58L498.58,68.58L499.58,68.58L500.58,68.58L501.59,68.59L502.59,68.59L503.59,68.59L504.59,68.60L505.60,68.60L506.60,68.60L507.60,68.60L508.60,68.61L509.60,68.61L510.61,68.61L511.61,68.61L512.61,68.61L513.61,68.62L514.62,68.62L515.62,68.62L516.62,68.62L517.62,68.62L518.62,68.63L519.63,68.63L520.63,68.63L521.63,68.63L522.63,68.63L523.64,68.63L524.64,68.63L525.64,68.64L526.64,68.64L527.64,68.64L528.65,68.64L529.65,68.64L530.65,68.64L531.65,68.64L532.65,68.64L533.66,68.64L534.66,68.65L535.66,68.65L536.66,68.65L537.66,68.65L538.67,68.65L539.67,68.65L540.67,68.65L541.67,68.65L542.67,68.65L543.67,68.65L544.68,68.65L545.68,68.65L546.68,68.65L547.68,68.66L548.68,68.66L549.69,68.66L550.69,68.66L551.69,68.66L552.69,68.66L553.69,68.66L554.70,68.66L555.70,68.66L556.70,68.66L557.70,68.66L558.70,68.66L559.70,68.66L560.71,68.66L561.71,68.66L562.71,68.66L563.71,68.66L564.71,68.66L565.72,68.67L566.72,68.67L567.72,68.67L568.72,68.67L569.72,68.67L570.72,68.67L571.73,68.67L572.73,68.67L573.73,68.67L574.73,68.67L575.73,68.67L576.74,68.67L577.74,68.67L578.74,68.68L579.74,68.68L580.74,68.68L581.75,68.68L582.75,68.68L583.75,68.68L584.75,68.68L585.75,68.68L586.75,68.68L587.76,68.69L588.76,68.69L589.76,68.69L590.76,68.69L591.76,68.69L592.77,68.69L593.77,68.70L594.77,68.70L595.77,68.70L596.77,68.70L597.78,68.70L598.78,68.70L599.78,68.71L600.78,68.71L601.78,68.71L602.79,68.71L603.79,68.72L604.79,68.72L605.79,68.72L606.80,68.72L607.80,68.73L608.80,68.73L609.80,68.73L610.80,68.73L611.81,68.74L612.81,68.74L613.81,68.74L614.81,68.75L615.82,68.75L616.82,68.75L617.82,68.76L618.82,68.76L619.82,68.77L620.83,68.77L621.83,68.77L622.83,68.78L623.83,68.78L624.84,68.79L625.84,68.79L626.84,68.79L627.84,68.80L628.85,68.80L629.85,68.81L630.85,68.81L631.85,68.82L632.86,68.82L633.86,68.83L634.86,68.84L635.87,68.84L636.87,68.85L637.87,68.85L638.87,68.86L639.88,68.87L640.88,68.87L641.88,68.88L642.88,68.88L643.89,68.89L644.89,68.90L645.89,68.90L646.90,68.91L647.90,68.92L648.90,68.93L649.91,68.93L650.91,68.94L651.91,68.95L652.91,68.96L653.92,68.97L654.92,68.97L655.92,68.98L656.93,68.99L657.93,69.00L658.93,69.01L659.94,69.02L660.94,69.03L661.94,69.04L662.95,69.05L663.95,69.06L664.96,69.07L665.96,69.08L666.96,69.09L667.97,69.10L668.97,69.11L669.97,69.12L670.98,69.13L671.98,69.14L672.98,69.15L673.99,69.17L674.99,69.18L676.00,69.19L677.00,69.20" fill="none" stroke="#008080" stroke-width="1.5" stroke-linejoin="round" stroke-linecap="round"/>
<path d="M68.70,374.00L68.77,373.00L68.83,371.99L68.90,370.99L68.97,369.98L69.03,368.98L69.10,367.98L69.16,366.97L69.22,365.97L69.28,364.96L69.34,363.96L69.40,362.95L69.46,361.95L69.52,360.94L69.58,359.94L69.63,358.94L69.69,357.93L69.74,356.93L69.80,355.92L69.85,354.92L69.91,353.91L69.96,352.91L70.01,351.90L70.06,350.90L70.11,349.90L70.16,348.89L70.21,347.89L70.25,346.88L70.30,345.88L70.35,344.87L70.39,343.87L70.44,342.86L70.48,341.86L70.53,340.85L70.57,339.85L70.61,338.84L70.65,337.84L70.69,336.83L70.73,335.83L70.77,334.82L70.81,333.82L70.85,332.82L70.89,331.81L70.93,330.81L70.96,329.80L71.00,328.80L71.03,327.79L71.07,326.79L71.10,325.78L71.14,324.78L71.17,323.77L71.20,322.77L71.23,321.76L71.26,320.76L71.29,319.75L71.32,318.75L71.35,317.74L71.38,316.73L71.41,315.73L71.44,314.72L71.47,313.72L71.49,312.71L71.52,311.71L71.54,310.70L71.57,309.70L71.59,308.69L71.62,307.69L71.64,306.68L71.67,305.68L71.69,304.67L71.71,303.67L71.73,302.66L71.75,301.66L71.77,300.65L71.79,299.65L71.81,298.64L71.83,297.63L71.85,296.63L71.87,295.62L71.89,294.62L71.91,293.61L71.92,292.61L71.94,291.60L71.96,290.60L71.97,289.59L71.99,288.59L72.00,287.58L72.02,286.57L72.03,285.57L72.05,284.56L72.06,283.56L72.07,282.55L72.09,281.55L72.10,280.54L72.11,279.54L72.12,278.53L72.14,277.52L72.15,276.52L72.16,275.51L72.17,274.51L72.18,273.50L72.19,272.50L72.20,271.49L72.21,270.49L72.22,269.48L72.22,268.47L72.23,267.47L72.24,266.46L72.25,265.46L72.26,264.45L72.26,263.45L72.27,262.44L72.28,261.43L72.28,260.43L72.29,259.42L72.30,258.42L72.30,257.41L72.31,256.41L72.31,255.40L72.32,254.39L72.32,253.39L72.33,252.38L72.33,251.38L72.34,250.37L72.34,249.37L72.34,248.36L72.35,247.35L72.35,246.35L72.36,245.34L72.36,244.34L72.36,243.33L72.36,242.32L72.37,241.32L72.37,240.31L72.37,239.31L72.37,238.30L72.38,237.30L72.38,236.29L72.38,235.28L72.38,234.28L72.38,233.27L72.39,232.27L72.39,231.26L72.39,230.25L72.39,229.25L72.39,228.24L72.39,227.24L72.39,226.23L72.39,225.22L72.40,224.22L72.40,223.21L72.40,222.21L72.40,221.20L72.40,220.20L72.40,219.19L72.40,218.18L72.40,217.18L72.40,216.17L72.40,215.17L72.40,214.16L72.40,213.15L72.40,212.15L72.41,211.14L72.41,210.14L72.41,209.13L72.41,208.12L72.41,207.12L72.41,206.11L72.41,205.11L72.41,204.10L72.41,203.10L72.41,202.09L72.41,201.08L72.41,200.08L72.42,199.07L72.42,198.07L72.42,197.06L72.42,196.05L72.42,195.05L72.42,194.04L72.43,193.04L72.43,192.03L72.43,191.02L72.43,190.02L72.43,189.01L72.44,188.01L72.44,187.00L72.44,186.00L72.44,184.99L72.45,183.98L72.45,182.98L72.45,181.97L72.46,180.97L72.46,179.96L72.46,178.95L72.47,177.95L72.47,176.94L72.48,175.94L72.48,174.93L72.49,173.93L72.49,172.92L72.50,171.91L72.50,170.91L72.51,169.90L72.51,168.90L72.52,167.89L72.53,166.88L72.53,165.88L72.54,164.87L72.55,163.87L72.55,162.86L72.56,161.86L72.57,160.85L72.58,159.84L72.59,158.84L72.59,157.83L72.60,156.83L72.61,155.82L72.62,154.82L72.63,153.81L72.64,152.80L72.65,151.80L72.67,150.79L72.68,149.79L72.69,148.78L72.70,147.78L72.71,146.77L72.73,145.76L72.74,144.76L72.75,143.75L72.77,142.75L72.78,141.74L72.79,140.74L72.81,139.73L72.83,138.73L72.84,137.72L72.86,136.71L72.87,135.71L72.89,134.70L72.91,133.70L72.93,132.69L72.94,131.69L72.96,130.68L72.98,129.68L73.00,128.67L73.02,127.66L73.04,126.66L73.06,125.65L73.08,124.65L73.11,123.64L73.13,122.64L73.15,121.63L73.18,120.63L73.20,119.62L73.22,118.62L73.25,117.61L73.27,116.61L73.30,115.60L73.30,115.60L74.03,116.31L74.74,117.03L75.43,117.77L76.09,118.52L76.74,119.28L77.36,120.06L77.97,120.85L78.56,121.65L79.13,122.47L79.69,123.29L80.23,124.13L80.75,124.97L81.26,125.83L81.76,126.69L82.25,127.56L82.72,128.44L83.19,129.33L83.64,130.22L84.09,131.12L84.53,132.02L84.95,132.93L85.38,133.84L85.79,134.76L86.21,135.68L86.61,136.61L87.02,137.53L87.42,138.46L87.82,139.39L88.21,140.32L88.61,141.25L89.01,142.18L89.40,143.11L89.80,144.04L90.21,144.97L90.61,145.89L91.02,146.81L91.44,147.73L91.86,148.64L92.29,149.55L92.72,150.46L93.17,151.36L93.62,152.25L94.08,153.14L94.55,154.02L95.02,154.90L95.51,155.77L96.00,156.63L96.49,157.50L97.00,158.35L97.51,159.20L98.03,160.05L98.56,160.89L99.09,161.73L99.63,162.56L100.18,163.39L100.73,164.21L101.29,165.03L101.85,165.85L102.43,166.66L103.00,167.46L103.59,168.26L104.17,169.06L104.77,169.85L105.37,170.64L105.97,171.43L106.58,172.21L107.20,172.98L107.82,173.76L108.44,174.53L109.07,175.29L109.71,176.06L110.35,176.81L110.99,177.57L111.64,178.32L112.29,179.07L112.94,179.82L113.60,180.56L114.27,181.30L114.93,182.04L115.60,182.77L116.28,183.50L116.95,184.23L117.63,184.95L118.32,185.68L119.00,186.40L119.69,187.11L120.38,187.83L121.07,188.54L121.76,189.26L122.46,189.97L123.15,190.68L123.84,191.39L124.53,192.11L125.22,192.82L125.91,193.53L126.59,194.25L127.28,194.97L127.95,195.69L128.63,196.42L129.30,197.15L129.96,197.88L130.62,198.61L131.27,199.36L131.91,200.10L132.55,200.85L133.18,201.61L133.80,202.38L134.41,203.15L135.02,203.92L135.61,204.71L136.20,205.49L136.79,206.29L137.36,207.09L137.93,207.89L138.50,208.70L139.06,209.51L139.61,210.33L140.16,211.15L140.70,211.98L141.24,212.81L141.77,213.64L142.30,214.48L142.83,215.32L143.35,216.17L143.87,217.01L144.39,217.86L144.90,218.72L145.41,219.57L145.91,220.43L146.42,221.30L146.92,222.16L147.41,223.03L147.91,223.90L148.40,224.77L148.89,225.64L149.37,226.52L149.86,227.40L150.34,228.28L150.81,229.16L151.29,230.05L151.76,230.93L152.23,231.82L152.70,232.71L153.16,233.60L153.63,234.50L154.09,235.39L154.55,236.29L155.00,237.18L155.46,238.08L155.91,238.98L156.36,239.88L156.81,240.79L157.26,241.69L157.70,242.59L158.15,243.50L158.59,244.40L159.03,245.31L159.47,246.21L159.91,247.12L160.34,248.03L160.78,248.93L161.21,249.84L161.65,250.75L162.08,251.65L162.51,252.56L162.94,253.47L163.37,254.38L163.80,255.28L164.22,256.19L164.65,257.10L165.07,258.01L165.50,258.91L165.92,259.82L166.35,260.73L166.77,261.64L167.19,262.54L167.61,263.45L168.04,264.36L168.46,265.26L168.88,266.17L169.30,267.07L169.72,267.98L170.14,268.89L170.56,269.79L170.99,270.70L171.41,271.60L171.83,272.51L172.25,273.41L172.67,274.31L173.10,275.22L173.52,276.12L173.94,277.02L174.37,277.93L174.79,278.83L175.22,279.73L175.64,280.63L176.07,281.53L176.50,282.43L176.92,283.33L177.35,284.23L177.78,285.13L178.21,286.03L178.65,286.92L179.08,287.82L179.52,288.72L179.95,289.61L180.39,290.51L180.83,291.40L181.27,292.30L181.71,293.19L182.15,294.08L182.60,294.98L183.04,295.87L183.49,296.76L183.94,297.65L184.40,298.54L184.85,299.43L185.31,300.31L185.76,301.20L186.22,302.09L186.68,302.97L187.15,303.86L187.62,304.74L188.08,305.62L188.56,306.50L189.03,307.38L189.51,308.26L189.98,309.14L190.47,310.02L190.95,310.90L191.44,311.77L191.92,312.65L192.42,313.52L192.91,314.40L193.41,315.27L193.91,316.14L194.41,317.01L194.92,317.88L195.43,318.74L195.95,319.61L196.46,320.48L196.98,321.34L197.51,322.20L198.03,323.06L198.57,323.92L199.10,324.77L199.64,325.63L200.19,326.48L200.74,327.32L201.29,328.17L201.85,329.01L202.41,329.84L202.98,330.68L203.55,331.51L204.13,332.33L204.71,333.15L205.30,333.97L205.90,334.78L206.50,335.58L207.11,336.38L207.72,337.18L208.34,337.97L208.97,338.75L209.60,339.53L210.24,340.30L210.89,341.07L211.54,341.83L212.20,342.58L212.87,343.32L213.55,344.06L214.23,344.79L214.92,345.51L215.62,346.22L216.33,346.93L217.04,347.62L217.76,348.31L218.49,348.99L219.23,349.67L219.98,350.33L220.73,350.99L221.49,351.63L222.26,352.27L223.03,352.90L223.81,353.52L224.60,354.14L225.40,354.74L226.20,355.33L227.01,355.92L227.82,356.50L228.64,357.07L229.47,357.62L230.30,358.17L231.14,358.72L231.98,359.25L232.83,359.77L233.69,360.28L234.55,360.79L235.41,361.28L236.28,361.77L237.16,362.24L238.04,362.71L238.93,363.17L239.82,363.61L240.72,364.05L241.62,364.48L242.52,364.90L243.43,365.31L244.34,365.70L245.26,366.09L246.18,366.47L247.11,366.84L248.04,367.20L248.97,367.55L249.91,367.88L250.85,368.21L251.79,368.53L252.74,368.84L253.69,369.13L254.64,369.42L255.59,369.70L256.55,369.96L257.51,370.22L258.48,370.46L259.44,370.70L260.41,370.93L261.38,371.14L262.36,371.35L263.33,371.55L264.31,371.74L265.29,371.92L266.27,372.10L267.25,372.27L268.24,372.43L269.23,372.58L270.22,372.72L271.21,372.86L272.20,372.99L273.20,373.11L274.19,373.23L275.19,373.34L276.19,373.45L277.19,373.55L278.19,373.65L279.19,373.74L280.19,373.82L281.20,373.90L282.20,373.98L283.21,374.05L284.21,374.12L285.22,374.18L286.23,374.24L287.24,374.30L288.25,374.35L289.26,374.40L290.26,374.45L291.27,374.50L292.28,374.54L293.29,374.58L294.30,374.62L295.31,374.66L296.32,374.69L297.33,374.73L298.34,374.76L299.35,374.80L300.36,374.83L301.37,374.87L302.38,374.90L303.38,374.93L304.39,374.96L305.40,375.00L306.40,375.03L307.41,375.06L308.41,375.09L309.42,375.12L310.42,375.15L311.43,375.18L312.43,375.21L313.43,375.24L314.44,375.27L315.44,375.30L316.44,375.33L317.44,375.36L318.45,375.39L319.45,375.42L320.45,375.45L321.45,375.47L322.45,375.50L323.45,375.53L324.45,375.55L325.45,375.58L326.45,375.61L327.45,375.63L328.45,375.66L329.45,375.69L330.45,375.71L331.45,375.74L332.45,375.76L333.45,375.79L334.45,375.81L335.45,375.83L336.44,375.86L337.44,375.88L338.44,375.91L339.44,375.93L340.44,375.95L341.44,375.97L342.44,376.00L343.43,376.02L344.43,376.04L345.43,376.06L346.43,376.08L347.43,376.11L348.43,376.13L349.43,376.15L350.43,376.17L351.42,376.19L352.42,376.21L353.42,376.23L354.42,376.25L355.42,376.27L356.42,376.29L357.42,376.31L358.42,376.32L359.42,376.34L360.42,376.36L361.42,376.38L362.42,376.40L363.42,376.41L364.42,376.43L365.42,376.45L366.42,376.47L367.42,376.48L368.42,376.50L369.42,376.51L370.42,376.53L371.42,376.55L372.42,376.56L373.42,376.58L374.42,376.59L375.42,376.61L376.42,376.62L377.42,376.64L378.42,376.65L379.42,376.67L380.42,376.68L381.43,376.69L382.43,376.71L383.43,376.72L384.43,376.74L385.43,376.75L386.43,376.76L387.43,376.77L388.43,376.79L389.44,376.80L390.44,376.81L391.44,376.82L392.44,376.84L393.44,376.85L394.44,376.86L395.44,376.87L396.45,376.88L397.45,376.90L398.45,376.91L399.45,376.92L400.45,376.93L401.45,376.94L402.46,376.95L403.46,376.96L404.46,376.97L405.46,376.98L406.46,376.99L407.47,377.00L408.47,377.01L409.47,377.02L410.47,377.03L411.48,377.04L412.48,377.05L413.48,377.06L414.48,377.07L415.48,377.07L416.49,377.08L417.49,377.09L418.49,377.10L419.49,377.11L420.50,377.12L421.50,377.13L422.50,377.13L423.50,377.14L424.51,377.15L425.51,377.16L426.51,377.17L427.51,377.17L428.52,377.18L429.52,377.19L430.52,377.19L431.52,377.20L432.53,377.21L433.53,377.22L434.53,377.22L435.54,377.23L436.54,377.24L437.54,377.24L438.54,377.25L439.55,377.26L440.55,377.26L441.55,377.27L442.55,377.28L443.56,377.28L444.56,377.29L445.56,377.30L446.56,377.30L447.57,377.31L448.57,377.31L449.57,377.32L450.58,377.33L451.58,377.33L452.58,377.34L453.58,377.34L454.59,377.35L455.59,377.35L456.59,377.36L457.59,377.37L458.60,377.37L459.60,377.38L460.60,377.38L461.60,377.39L462.61,377.39L463.61,377.40L464.61,377.40L465.61,377.41L466.62,377.41L467.62,377.42L468.62,377.42L469.62,377.43L470.63,377.43L471.63,377.44L472.63,377.45L473.63,377.45L474.64,377.46L475.64,377.46L476.64,377.47L477.64,377.47L478.64,377.48L479.65,377.48L480.65,377.49L481.65,377.49L482.65,377.50L483.66,377.50L484.66,377.51L485.66,377.51L486.66,377.51L487.66,377.52L488.67,377.52L489.67,377.53L490.67,377.53L491.67,377.54L492.67,377.54L493.68,377.55L494.68,377.55L495.68,377.56L496.68,377.56L497.68,377.57L498.69,377.57L499.69,377.58L500.69,377.58L501.69,377.58L502.69,377.59L503.70,377.59L504.70,377.60L505.70,377.60L506.70,377.61L507.70,377.61L508.71,377.62L509.71,377.62L510.71,377.62L511.71,377.63L512.71,377.63L513.71,377.64L514.72,377.64L515.72,377.64L516.72,377.65L517.72,377.65L518.72,377.66L519.73,377.66L520.73,377.66L521.73,377.67L522.73,377.67L523.73,377.68L524.73,377.68L525.74,377.68L526.74,377.69L527.74,377.69L528.74,377.70L529.74,377.70L530.74,377.70L531.75,377.71L532.75,377.71L533.75,377.72L534.75,377.72L535.75,377.72L536.75,377.73L537.75,377.73L538.76,377.73L539.76,377.74L540.76,377.74L541.76,377.74L542.76,377.75L543.76,377.75L544.77,377.75L545.77,377.76L546.77,377.76L547.77,377.76L548.77,377.77L549.77,377.77L550.77,377.77L551.78,377.78L552.78,377.78L553.78,377.78L554.78,377.79L555.78,377.79L556.78,377.79L557.79,377.80L558.79,377.80L559.79,377.80L560.79,377.81L561.79,377.81L562.79,377.81L563.79,377.82L564.80,377.82L565.80,377.82L566.80,377.82L567.80,377.83L568.80,377.83L569.80,377.83L570.80,377.84L571.81,377.84L572.81,377.84L573.81,377.84L574.81,377.85L575.81,377.85L576.81,377.85L577.82,377.86L578.82,377.86L579.82,377.86L580.82,377.86L581.82,377.87L582.82,377.87L583.82,377.87L584.83,377.87L585.83,377.88L586.83,377.88L587.83,377.88L588.83,377.88L589.83,377.89L590.84,377.89L591.84,377.89L592.84,377.89L593.84,377.89L594.84,377.90L595.84,377.90L596.84,377.90L597.85,377.90L598.85,377.91L599.85,377.91L600.85,377.91L601.85,377.91L602.85,377.91L603.86,377.92L604.86,377.92L605.86,377.92L606.86,377.92L607.86,377.92L608.86,377.93L609.87,377.93L610.87,377.93L611.87,377.93L612.87,377.93L613.87,377.94L614.87,377.94L615.87,377.94L616.88,377.94L617.88,377.94L618.88,377.94L619.88,377.95L620.88,377.95L621.89,377.95L622.89,377.95L623.89,377.95L624.89,377.95L625.89,377.96L626.89,377.96L627.90,377.96L628.90,377.96L629.90,377.96L630.90,377.96L631.90,377.96L632.90,377.96L633.91,377.97L634.91,377.97L635.91,377.97L636.91,377.97L637.91,377.97L638.92,377.97L639.92,377.97L640.92,377.97L641.92,377.98L642.92,377.98L643.93,377.98L644.93,377.98L645.93,377.98L646.93,377.98L647.93,377.98L648.94,377.98L649.94,377.98L650.94,377.98L651.94,377.99L652.94,377.99L653.95,377.99L654.95,377.99L655.95,377.99L656.95,377.99L657.96,377.99L658.96,377.99L659.96,377.99L660.96,377.99L661.96,377.99L662.97,377.99L663.97,377.99L664.97,378.00L665.97,378.00L666.98,378.00L667.98,378.00L668.98,378.00L669.98,378.00L670.99,378.00L671.99,378.00L672.99,378.00L673.99,378.00L675.00,378.00L676.00,378.00L677.00,378.00" fill="none" stroke="#800000" stroke-width="1.5" stroke-linejoin="round" stroke-linecap="round"/>
<path d="M69.00,7.40L69.03,8.41L69.06,9.42L69.08,10.42L69.11,11.43L69.14,12.44L69.16,13.45L69.19,14.45L69.21,15.46L69.23,16.47L69.25,17.48L69.27,18.49L69.29,19.49L69.31,20.50L69.33,21.51L69.35,22.52L69.37,23.53L69.38,24.53L69.40,25.54L69.41,26.55L69.43,27.56L69.44,28.57L69.45,29.58L69.46,30.59L69.48,31.60L69.49,32.60L69.50,33.61L69.51,34.62L69.51,35.63L69.52,36.64L69.53,37.65L69.54,38.66L69.54,39.67L69.55,40.68L69.55,41.69L69.56,42.69L69.56,43.70L69.57,44.71L69.57,45.72L69.57,46.73L69.57,47.74L69.58,48.75L69.58,49.76L69.58,50.77L69.58,51.78L69.58,52.79L69.58,53.80L69.58,54.81L69.58,55.82L69.57,56.83L69.57,57.84L69.57,58.85L69.57,59.86L69.56,60.87L69.56,61.88L69.56,62.89L69.55,63.90L69.55,64.91L69.55,65.91L69.54,66.92L69.54,67.93L69.53,68.94L69.52,69.95L69.52,70.96L69.51,71.97L69.51,72.98L69.50,73.99L69.49,75.00L69.49,76.01L69.48,77.02L69.47,78.03L69.47,79.04L69.46,80.05L69.45,81.06L69.45,82.07L69.44,83.08L69.43,84.09L69.42,85.10L69.42,86.11L69.41,87.12L69.40,88.13L69.39,89.14L69.39,90.15L69.38,91.16L69.37,92.17L69.36,93.18L69.36,94.19L69.35,95.20L69.34,96.21L69.33,97.22L69.33,98.23L69.32,99.24L69.31,100.25L69.31,101.26L69.30,102.27L69.29,103.28L69.29,104.29L69.28,105.30L69.27,106.31L69.27,107.32L69.26,108.33L69.26,109.34L69.25,110.35L69.25,111.36L69.24,112.37L69.24,113.38L69.23,114.39L69.23,115.40L69.23,116.41L69.22,117.42L69.22,118.43L69.22,119.44L69.22,120.45L69.21,121.45L69.21,122.46L69.21,123.47L69.21,124.48L69.21,125.49L69.21,126.50L69.21,127.51L69.21,128.52L69.21,129.53L69.22,130.54L69.22,131.55L69.22,132.55L69.23,133.56L69.23,134.57L69.23,135.58L69.24,136.59L69.24,137.60L69.25,138.61L69.26,139.62L69.26,140.62L69.27,141.63L69.28,142.64L69.29,143.65L69.30,144.66L69.31,145.67L69.32,146.67L69.33,147.68L69.34,148.69L69.36,149.70L69.37,150.71L69.39,151.71L69.40,152.72L69.42,153.73L69.43,154.74L69.45,155.74L69.47,156.75L69.49,157.76L69.51,158.77L69.53,159.77L69.55,160.78L69.57,161.79L69.59,162.79L69.62,163.80L69.64,164.81L69.67,165.82L69.69,166.82L69.72,167.83L69.75,168.84L69.78,169.84L69.81,170.85L69.84,171.86L69.87,172.86L69.90,173.87L69.94,174.87L69.97,175.88L70.01,176.89L70.05,177.89L70.08,178.90L70.12,179.90L70.16,180.91L70.20,181.91L70.24,182.92L70.29,183.93L70.33,184.93L70.38,185.94L70.42,186.94L70.47,187.95L70.52,188.95L70.57,189.96L70.62,190.96L70.67,191.96L70.73,192.97L70.78,193.97L70.84,194.98L70.89,195.98L70.95,196.99L71.01,197.99L71.07,198.99L71.13,200.00L71.20,201.00L71.20,201.00L71.56,200.02L71.91,199.05L72.26,198.07L72.61,197.10L72.95,196.13L73.30,195.16L73.64,194.19L73.97,193.23L74.31,192.26L74.64,191.30L74.97,190.34L75.29,189.38L75.62,188.42L75.94,187.46L76.26,186.51L76.57,185.55L76.89,184.59L77.20,183.64L77.51,182.69L77.81,181.74L78.12,180.79L78.42,179.84L78.72,178.89L79.01,177.94L79.31,176.99L79.60,176.04L79.89,175.10L80.18,174.15L80.46,173.20L80.75,172.26L81.03,171.31L81.31,170.37L81.58,169.42L81.86,168.48L82.13,167.53L82.40,166.59L82.67,165.65L82.94,164.70L83.20,163.76L83.46,162.81L83.72,161.87L83.98,160.92L84.24,159.97L84.49,159.03L84.74,158.08L84.99,157.13L85.24,156.19L85.49,155.24L85.73,154.29L85.98,153.34L86.22,152.39L86.46,151.44L86.70,150.49L86.93,149.53L87.17,148.58L87.40,147.63L87.63,146.67L87.86,145.71L88.09,144.75L88.32,143.79L88.54,142.83L88.76,141.87L88.99,140.91L89.21,139.94L89.43,138.98L89.64,138.01L89.86,137.04L90.07,136.07L90.29,135.09L90.50,134.12L90.71,133.14L90.92,132.16L91.12,131.18L91.33,130.20L91.54,129.22L91.74,128.23L91.94,127.24L92.14,126.25L92.35,125.26L92.54,124.26L92.74,123.26L92.94,122.26L93.14,121.26L93.33,120.25L93.52,119.25L93.72,118.24L93.91,117.22L94.10,116.21L94.29,115.19L94.48,114.17L94.66,113.14L94.85,112.11L95.04,111.08L95.22,110.05L95.41,109.01L95.59,107.97L95.77,106.93L95.96,105.88L96.14,104.83L96.32,103.78L96.50,102.72L96.68,101.66L96.85,100.60L97.03,99.53L97.21,98.46L97.39,97.39L97.57,96.32L97.75,95.25L97.94,94.18L98.13,93.12L98.34,92.08L98.55,91.04L98.77,90.02L99.01,89.01L99.27,88.03L99.54,87.06L99.82,86.12L100.13,85.21L100.46,84.33L100.81,83.47L101.19,82.65L101.59,81.87L102.02,81.12L102.48,80.42L102.97,79.75L103.49,79.14L104.05,78.57L104.64,78.05L105.27,77.58L105.94,77.17L106.65,76.81L107.40,76.52L108.19,76.28L109.01,76.10L109.86,75.99L110.73,75.93L111.62,75.92L112.53,75.98L113.45,76.10L114.38,76.27L115.30,76.50L116.23,76.79L117.15,77.14L118.06,77.54L118.95,78.00L119.83,78.52L120.69,79.08L121.54,79.67L122.39,80.30L123.22,80.96L124.05,81.63L124.87,82.32L125.69,83.02L126.50,83.71L127.32,84.40L128.14,85.07L128.96,85.73L129.79,86.35L130.62,86.95L131.46,87.50L132.31,88.01L133.18,88.47L134.05,88.87L134.94,89.20L135.85,89.48L136.76,89.70L137.69,89.86L138.63,89.98L139.58,90.05L140.55,90.07L141.52,90.05L142.49,90.00L143.48,89.91L144.47,89.78L145.47,89.63L146.47,89.44L147.48,89.24L148.50,89.01L149.51,88.77L150.53,88.51L151.55,88.24L152.57,87.96L153.60,87.67L154.62,87.38L155.64,87.09L156.66,86.80L157.67,86.52L158.68,86.25L159.69,85.98L160.70,85.73L161.70,85.48L162.70,85.23L163.70,84.99L164.69,84.75L165.67,84.52L166.66,84.28L167.64,84.05L168.61,83.82L169.58,83.58L170.55,83.35L171.51,83.11L172.47,82.86L173.43,82.61L174.38,82.36L175.32,82.10L176.27,81.83L177.20,81.55L178.14,81.26L179.06,80.96L179.99,80.64L180.91,80.32L181.82,79.98L182.73,79.62L183.63,79.25L184.53,78.87L185.43,78.46L186.32,78.04L187.20,77.60L188.09,77.16L188.97,76.70L189.85,76.23L190.73,75.76L191.62,75.29L192.51,74.82L193.40,74.34L194.29,73.88L195.20,73.42L196.10,72.97L197.02,72.53L197.95,72.11L198.88,71.71L199.83,71.32L200.79,70.95L201.76,70.61L202.74,70.30L203.74,70.01L204.75,69.75L205.77,69.52L206.79,69.32L207.82,69.15L208.85,69.00L209.89,68.89L210.92,68.81L211.96,68.76L212.99,68.75L214.02,68.76L215.03,68.81L216.05,68.90L217.05,69.02L218.04,69.17L219.01,69.36L219.97,69.59L220.92,69.86L221.84,70.16L222.74,70.50L223.63,70.88L224.49,71.30L225.32,71.76L226.13,72.26L226.92,72.79L227.69,73.35L228.44,73.95L229.17,74.57L229.88,75.22L230.58,75.90L231.25,76.60L231.92,77.33L232.57,78.07L233.21,78.83L233.84,79.61L234.45,80.40L235.06,81.20L235.66,82.01L236.25,82.84L236.83,83.66L237.41,84.50L237.99,85.33L238.56,86.17L239.13,87.01L239.69,87.85L240.25,88.69L240.81,89.53L241.36,90.38L241.91,91.23L242.46,92.08L243.00,92.93L243.54,93.78L244.08,94.63L244.61,95.49L245.14,96.34L245.66,97.20L246.19,98.06L246.70,98.93L247.22,99.79L247.73,100.65L248.24,101.52L248.75,102.39L249.25,103.26L249.75,104.13L250.24,105.00L250.74,105.87L251.23,106.75L251.71,107.63L252.20,108.50L252.68,109.38L253.16,110.26L253.63,111.15L254.10,112.03L254.57,112.91L255.04,113.80L255.50,114.69L255.96,115.58L256.42,116.47L256.87,117.36L257.33,118.25L257.78,119.14L258.22,120.04L258.67,120.94L259.11,121.83L259.55,122.73L259.98,123.63L260.42,124.53L260.85,125.44L261.28,126.34L261.71,127.24L262.13,128.15L262.55,129.06L262.97,129.96L263.39,130.87L263.80,131.78L264.21,132.69L264.62,133.61L265.03,134.52L265.44,135.43L265.84,136.35L266.24,137.26L266.64,138.18L267.04,139.10L267.43,140.02L267.83,140.94L268.22,141.86L268.61,142.78L268.99,143.70L269.38,144.63L269.76,145.55L270.14,146.48L270.52,147.40L270.90,148.33L271.27,149.26L271.65,150.18L272.02,151.11L272.39,152.04L272.76,152.97L273.13,153.90L273.49,154.84L273.86,155.77L274.22,156.70L274.58,157.64L274.94,158.57L275.30,159.51L275.65,160.44L276.01,161.38L276.36,162.32L276.71,163.26L277.06,164.19L277.41,165.13L277.76,166.07L278.11,167.01L278.45,167.95L278.80,168.90L279.14,169.84L279.48,170.78L279.83,171.72L280.16,172.67L280.50,173.61L280.84,174.55L281.18,175.50L281.51,176.44L281.85,177.39L282.18,178.33L282.52,179.28L282.85,180.23L283.18,181.17L283.51,182.12L283.84,183.07L284.17,184.02L284.49,184.96L284.82,185.91L285.15,186.86L285.47,187.81L285.80,188.76L286.12,189.71L286.45,190.66L286.77,191.61L287.10,192.56L287.42,193.51L287.74,194.46L288.06,195.41L288.38,196.36L288.70,197.31L289.02,198.26L289.34,199.21L289.66,200.16L289.98,201.11L290.30,202.07L290.62,203.02L290.94,203.97L291.26,204.92L291.58,205.87L291.90,206.82L292.22,207.77L292.54,208.73L292.85,209.68L293.17,210.63L293.49,211.58L293.81,212.53L294.13,213.48L294.45,214.43L294.77,215.38L295.09,216.33L295.41,217.29L295.73,218.24L296.05,219.19L296.37,220.14L296.69,221.09L297.01,222.04L297.34,222.99L297.66,223.94L297.98,224.88L298.31,225.83L298.63,226.78L298.95,227.73L299.28,228.68L299.61,229.63L299.93,230.57L300.26,231.52L300.59,232.47L300.92,233.42L301.25,234.36L301.58,235.31L301.91,236.25L302.24,237.20L302.57,238.14L302.91,239.09L303.24,240.03L303.58,240.98L303.92,241.92L304.26,242.86L304.59,243.80L304.94,244.75L305.28,245.69L305.62,246.63L305.96,247.57L306.31,248.51L306.65,249.45L307.00,250.38L307.35,251.32L307.70,252.26L308.05,253.20L308.41,254.13L308.76,255.07L309.12,256.00L309.48,256.94L309.84,257.87L310.20,258.81L310.56,259.74L310.92,260.67L311.29,261.60L311.66,262.53L312.02,263.46L312.40,264.39L312.77,265.32L313.14,266.24L313.52,267.17L313.90,268.10L314.28,269.02L314.66,269.95L315.04,270.87L315.43,271.79L315.82,272.71L316.21,273.63L316.60,274.55L316.99,275.47L317.39,276.39L317.79,277.31L318.19,278.23L318.59,279.14L319.00,280.06L319.40,280.97L319.81,281.88L320.22,282.79L320.64,283.70L321.06,284.61L321.48,285.52L321.90,286.43L322.32,287.34L322.75,288.24L323.18,289.15L323.61,290.05L324.04,290.95L324.48,291.85L324.92,292.75L325.36,293.65L325.81,294.55L326.26,295.45L326.71,296.34L327.16,297.24L327.62,298.13L328.08,299.02L328.54,299.91L329.00,300.80L329.47,301.69L329.94,302.58L330.42,303.46L330.89,304.35L331.37,305.23L331.86,306.11L332.34,306.99L332.83,307.87L333.33,308.75L333.82,309.63L334.32,310.50L334.83,311.37L335.33,312.25L335.84,313.12L336.35,313.99L336.87,314.85L337.39,315.72L337.92,316.58L338.44,317.44L338.98,318.30L339.51,319.15L340.05,320.00L340.60,320.85L341.15,321.70L341.70,322.54L342.26,323.38L342.82,324.21L343.39,325.04L343.96,325.87L344.54,326.69L345.13,327.51L345.71,328.32L346.31,329.13L346.91,329.93L347.51,330.73L348.12,331.52L348.74,332.30L349.36,333.08L349.98,333.86L350.62,334.63L351.26,335.39L351.90,336.15L352.55,336.90L353.21,337.64L353.87,338.38L354.54,339.11L355.22,339.83L355.91,340.54L356.60,341.25L357.29,341.95L358.00,342.64L358.71,343.32L359.43,344.00L360.16,344.66L360.89,345.32L361.63,345.97L362.38,346.61L363.14,347.24L363.90,347.87L364.67,348.48L365.45,349.08L366.24,349.68L367.03,350.26L367.84,350.84L368.65,351.40L369.47,351.96L370.29,352.50L371.12,353.04L371.96,353.57L372.81,354.09L373.66,354.60L374.52,355.11L375.38,355.60L376.25,356.09L377.13,356.56L378.01,357.03L378.90,357.49L379.79,357.95L380.69,358.39L381.59,358.83L382.50,359.26L383.42,359.68L384.33,360.10L385.25,360.51L386.18,360.91L387.11,361.30L388.04,361.69L388.98,362.07L389.92,362.44L390.87,362.80L391.82,363.16L392.77,363.52L393.72,363.86L394.68,364.20L395.64,364.54L396.60,364.86L397.56,365.19L398.53,365.50L399.50,365.81L400.47,366.12L401.44,366.41L402.41,366.71L403.39,367.00L404.36,367.28L405.34,367.56L406.31,367.83L407.29,368.10L408.27,368.36L409.25,368.62L410.23,368.87L411.21,369.12L412.19,369.36L413.17,369.60L414.15,369.84L415.13,370.07L416.11,370.29L417.09,370.51L418.07,370.73L419.06,370.94L420.04,371.15L421.02,371.35L422.01,371.55L422.99,371.75L423.98,371.94L424.96,372.13L425.95,372.31L426.93,372.49L427.92,372.67L428.90,372.84L429.89,373.00L430.88,373.17L431.86,373.33L432.85,373.48L433.84,373.64L434.83,373.78L435.82,373.93L436.81,374.07L437.80,374.21L438.79,374.34L439.78,374.47L440.77,374.60L441.76,374.73L442.75,374.85L443.74,374.96L444.73,375.08L445.72,375.19L446.71,375.30L447.71,375.40L448.70,375.50L449.69,375.60L450.68,375.70L451.68,375.79L452.67,375.88L453.66,375.97L454.66,376.05L455.65,376.13L456.65,376.21L457.64,376.29L458.64,376.36L459.63,376.43L460.63,376.50L461.62,376.56L462.62,376.63L463.62,376.69L464.61,376.75L465.61,376.80L466.61,376.85L467.60,376.91L468.60,376.95L469.60,377.00L470.60,377.05L471.59,377.09L472.59,377.13L473.59,377.17L474.59,377.20L475.59,377.24L476.59,377.27L477.59,377.30L478.59,377.33L479.58,377.36L480.58,377.38L481.58,377.41L482.58,377.43L483.58,377.45L484.58,377.47L485.58,377.49L486.58,377.50L487.58,377.52L488.59,377.53L489.59,377.54L490.59,377.55L491.59,377.56L492.59,377.57L493.59,377.58L494.59,377.58L495.59,377.59L496.60,377.59L497.60,377.60L498.60,377.60L499.60,377.60L500.60,377.60L501.61,377.60L502.61,377.60L503.61,377.59L504.61,377.59L505.61,377.59L506.62,377.58L507.62,377.58L508.62,377.57L509.62,377.57L510.63,377.56L511.63,377.55L512.63,377.55L513.64,377.54L514.64,377.53L515.64,377.52L516.64,377.52L517.65,377.51L518.65,377.50L519.65,377.49L520.66,377.48L521.66,377.47L522.66,377.46L523.67,377.46L524.67,377.45L525.67,377.44L526.68,377.43L527.68,377.43L528.68,377.42L529.68,377.41L530.69,377.40L531.69,377.40L532.69,377.39L533.70,377.39L534.70,377.38L535.70,377.38L536.71,377.38L537.71,377.37L538.71,377.37L539.71,377.37L540.72,377.37L541.72,377.36L542.72,377.36L543.73,377.36L544.73,377.36L545.73,377.36L546.73,377.36L547.74,377.36L548.74,377.36L549.74,377.36L550.75,377.37L551.75,377.37L552.75,377.37L553.75,377.37L554.76,377.38L555.76,377.38L556.76,377.38L557.76,377.39L558.77,377.39L559.77,377.40L560.77,377.40L561.77,377.40L562.78,377.41L563.78,377.42L564.78,377.42L565.78,377.43L566.79,377.43L567.79,377.44L568.79,377.45L569.79,377.45L570.79,377.46L571.80,377.47L572.80,377.48L573.80,377.48L574.80,377.49L575.81,377.50L576.81,377.51L577.81,377.52L578.81,377.52L579.82,377.53L580.82,377.54L581.82,377.55L582.82,377.56L583.82,377.57L584.83,377.58L585.83,377.59L586.83,377.60L587.83,377.61L588.83,377.62L589.84,377.62L590.84,377.63L591.84,377.64L592.84,377.65L593.84,377.66L594.85,377.67L595.85,377.68L596.85,377.69L597.85,377.70L598.85,377.71L599.86,377.72L600.86,377.73L601.86,377.74L602.86,377.75L603.86,377.76L604.87,377.77L605.87,377.78L606.87,377.79L607.87,377.80L608.87,377.81L609.88,377.82L610.88,377.83L611.88,377.84L612.88,377.85L613.88,377.86L614.89,377.87L615.89,377.88L616.89,377.89L617.89,377.90L618.89,377.91L619.90,377.92L620.90,377.93L621.90,377.94L622.90,377.94L623.90,377.95L624.90,377.96L625.91,377.97L626.91,377.98L627.91,377.98L628.91,377.99L629.91,378.00L630.92,378.01L631.92,378.01L632.92,378.02L633.92,378.03L634.92,378.03L635.92,378.04L636.93,378.04L637.93,378.05L638.93,378.05L639.93,378.06L640.93,378.06L641.94,378.07L642.94,378.07L643.94,378.08L644.94,378.08L645.94,378.08L646.94,378.09L647.95,378.09L648.95,378.09L649.95,378.09L650.95,378.09L651.95,378.10L652.96,378.10L653.96,378.10L654.96,378.10L655.96,378.10L656.96,378.10L657.96,378.10L658.97,378.10L659.97,378.09L660.97,378.09L661.97,378.09L662.97,378.09L663.98,378.08L664.98,378.08L665.98,378.08L666.98,378.07L667.98,378.07L668.98,378.06L669.99,378.05L670.99,378.05L671.99,378.04L672.99,378.03L673.99,378.03L675.00,378.02L676.00,378.01L677.00,378.00" fill="none" stroke="#808000" stroke-width="1.5" stroke-linejoin="round" stroke-linecap="round"/>
<path d="M68.20,256.50L69.04,257.08L69.76,257.76L70.39,258.53L70.93,259.37L71.41,260.26L71.84,261.20L72.24,262.17L72.63,263.15L73.04,264.12L73.47,265.09L73.94,266.02L74.48,266.91L75.10,267.75L75.82,268.51L76.63,269.20L77.51,269.81L78.45,270.34L79.44,270.80L80.47,271.19L81.51,271.49L82.57,271.72L83.61,271.86L84.64,271.93L85.63,271.92L86.57,271.83L87.45,271.65L88.28,271.40L89.06,271.08L89.79,270.69L90.47,270.23L91.10,269.70L91.70,269.12L92.25,268.49L92.76,267.80L93.24,267.06L93.69,266.28L94.11,265.46L94.50,264.60L94.86,263.71L95.20,262.79L95.52,261.84L95.82,260.87L96.11,259.87L96.39,258.87L96.65,257.85L96.91,256.82L97.16,255.78L97.41,254.75L97.66,253.71L97.91,252.68L98.16,251.65L98.41,250.63L98.66,249.60L98.91,248.58L99.16,247.57L99.41,246.55L99.66,245.54L99.91,244.53L100.16,243.52L100.41,242.52L100.67,241.52L100.92,240.52L101.17,239.52L101.43,238.52L101.68,237.53L101.93,236.54L102.19,235.55L102.44,234.56L102.69,233.57L102.95,232.59L103.20,231.61L103.46,230.63L103.71,229.65L103.97,228.67L104.22,227.69L104.48,226.72L104.73,225.75L104.99,224.78L105.24,223.80L105.50,222.84L105.76,221.87L106.01,220.90L106.27,219.93L106.52,218.97L106.78,218.00L107.03,217.04L107.29,216.08L107.54,215.12L107.80,214.16L108.05,213.19L108.31,212.23L108.56,211.27L108.82,210.32L109.07,209.36L109.33,208.40L109.58,207.44L109.84,206.48L110.09,205.52L110.34,204.57L110.60,203.61L110.85,202.65L111.10,201.69L111.36,200.73L111.61,199.77L111.86,198.82L112.12,197.86L112.37,196.90L112.62,195.94L112.87,194.98L113.12,194.01L113.37,193.05L113.62,192.09L113.88,191.13L114.13,190.17L114.38,189.21L114.63,188.24L114.88,187.28L115.13,186.32L115.39,185.36L115.64,184.39L115.89,183.43L116.14,182.47L116.40,181.50L116.65,180.54L116.91,179.58L117.16,178.61L117.42,177.65L117.67,176.69L117.93,175.72L118.19,174.76L118.45,173.79L118.70,172.83L118.96,171.87L119.23,170.90L119.49,169.94L119.75,168.98L120.01,168.01L120.28,167.05L120.54,166.09L120.81,165.13L121.08,164.16L121.35,163.20L121.62,162.24L121.89,161.28L122.16,160.32L122.43,159.35L122.71,158.39L122.99,157.43L123.27,156.47L123.55,155.51L123.83,154.55L124.11,153.59L124.39,152.64L124.68,151.68L124.97,150.72L125.26,149.76L125.55,148.81L125.84,147.85L126.14,146.89L126.44,145.94L126.73,144.98L127.04,144.03L127.34,143.07L127.64,142.12L127.95,141.17L128.26,140.22L128.57,139.27L128.89,138.31L129.20,137.36L129.52,136.42L129.84,135.47L130.16,134.52L130.49,133.57L130.82,132.63L131.15,131.68L131.48,130.73L131.82,129.79L132.16,128.85L132.50,127.91L132.84,126.96L133.19,126.02L133.54,125.08L133.89,124.14L134.25,123.21L134.60,122.27L134.96,121.33L135.33,120.40L135.70,119.46L136.07,118.53L136.44,117.60L136.82,116.67L137.20,115.74L137.58,114.81L137.97,113.88L138.36,112.96L138.75,112.03L139.14,111.11L139.54,110.18L139.95,109.26L140.36,108.34L140.77,107.42L141.18,106.50L141.60,105.59L142.02,104.67L142.44,103.76L142.87,102.84L143.31,101.93L143.74,101.02L144.18,100.11L144.63,99.20L145.08,98.30L145.53,97.39L145.99,96.49L146.45,95.58L146.91,94.68L147.38,93.78L147.86,92.89L148.33,91.99L148.82,91.10L149.30,90.20L149.79,89.31L150.29,88.42L150.79,87.53L151.29,86.65L151.80,85.76L152.31,84.88L152.83,84.00L153.36,83.13L153.88,82.26L154.42,81.40L154.95,80.54L155.50,79.69L156.05,78.84L156.60,78.00L157.16,77.17L157.72,76.35L158.29,75.54L158.87,74.73L159.45,73.94L160.03,73.16L160.62,72.38L161.22,71.62L161.83,70.87L162.44,70.13L163.05,69.41L163.67,68.69L164.30,68.00L164.93,67.31L165.57,66.64L166.22,65.99L166.87,65.35L167.53,64.73L168.20,64.13L168.87,63.57L169.54,63.14L170.22,62.91L170.89,62.97L171.56,63.32L172.23,63.90L172.88,64.62L173.53,65.42L174.17,66.27L174.80,67.15L175.42,68.06L176.03,69.00L176.63,69.96L177.22,70.93L177.80,71.90L178.37,72.88L178.94,73.85L179.49,74.81L180.04,75.75L180.58,76.67L181.11,77.57L181.63,78.44L182.15,79.29L182.67,80.13L183.18,80.96L183.70,81.77L184.22,82.58L184.74,83.39L185.27,84.20L185.81,85.00L186.35,85.81L186.90,86.61L187.44,87.42L188.00,88.22L188.56,89.03L189.12,89.83L189.68,90.63L190.25,91.44L190.82,92.24L191.39,93.04L191.97,93.85L192.54,94.65L193.12,95.46L193.70,96.26L194.28,97.07L194.87,97.88L195.45,98.69L196.03,99.49L196.62,100.31L197.20,101.12L197.79,101.93L198.37,102.74L198.95,103.56L199.53,104.38L200.11,105.20L200.69,106.02L201.26,106.84L201.84,107.67L202.41,108.50L202.98,109.33L203.54,110.16L204.10,110.99L204.66,111.83L205.22,112.67L205.77,113.51L206.32,114.36L206.86,115.20L207.41,116.05L207.95,116.90L208.49,117.76L209.02,118.61L209.56,119.47L210.09,120.32L210.62,121.18L211.14,122.04L211.67,122.90L212.19,123.76L212.72,124.63L213.24,125.49L213.76,126.35L214.27,127.22L214.79,128.08L215.31,128.95L215.83,129.82L216.34,130.68L216.86,131.55L217.37,132.42L217.88,133.28L218.40,134.15L218.91,135.02L219.43,135.88L219.94,136.75L220.46,137.61L220.97,138.48L221.49,139.34L222.00,140.20L222.52,141.06L223.04,141.92L223.56,142.78L224.08,143.64L224.60,144.50L225.13,145.35L225.65,146.20L226.18,147.05L226.71,147.90L227.24,148.75L227.78,149.60L228.31,150.44L228.85,151.28L229.39,152.12L229.93,152.96L230.48,153.79L231.03,154.62L231.58,155.45L232.14,156.27L232.69,157.10L233.26,157.91L233.82,158.73L234.39,159.54L234.96,160.35L235.54,161.16L236.12,161.96L236.71,162.76L237.29,163.55L237.89,164.34L238.49,165.13L239.09,165.91L239.70,166.69L240.31,167.46L240.93,168.23L241.55,169.00L242.18,169.76L242.81,170.51L243.45,171.27L244.09,172.01L244.74,172.76L245.39,173.50L246.05,174.24L246.72,174.98L247.38,175.71L248.06,176.44L248.74,177.17L249.42,177.90L250.11,178.62L250.80,179.35L251.50,180.07L252.20,180.79L252.91,181.51L253.63,182.23L254.34,182.95L255.07,183.67L255.80,184.39L256.53,185.11L257.27,185.82L258.01,186.53L258.77,187.24L259.52,187.93L260.29,188.62L261.06,189.30L261.84,189.97L262.63,190.62L263.42,191.27L264.23,191.89L265.04,192.50L265.86,193.09L266.70,193.67L267.54,194.22L268.39,194.75L269.25,195.26L270.13,195.74L271.01,196.19L271.91,196.62L272.82,197.03L273.74,197.40L274.67,197.74L275.61,198.05L276.56,198.34L277.51,198.59L278.48,198.81L279.44,199.00L280.42,199.16L281.39,199.29L282.37,199.39L283.35,199.46L284.33,199.50L285.31,199.51L286.29,199.48L287.27,199.42L288.24,199.33L289.21,199.21L290.17,199.06L291.12,198.88L292.07,198.66L293.00,198.41L293.93,198.12L294.85,197.81L295.75,197.46L296.64,197.08L297.52,196.66L298.38,196.22L299.24,195.74L300.08,195.24L300.90,194.71L301.72,194.16L302.53,193.58L303.32,192.98L304.11,192.36L304.88,191.72L305.65,191.06L306.41,190.38L307.15,189.69L307.89,188.99L308.62,188.27L309.35,187.54L310.06,186.80L310.77,186.05L311.47,185.29L312.17,184.53L312.86,183.76L313.54,182.99L314.22,182.22L314.89,181.45L315.56,180.67L316.22,179.89L316.87,179.11L317.53,178.33L318.18,177.55L318.82,176.76L319.46,175.97L320.09,175.19L320.73,174.40L321.35,173.60L321.98,172.81L322.60,172.02L323.22,171.22L323.83,170.42L324.44,169.62L325.05,168.83L325.66,168.03L326.26,167.22L326.86,166.42L327.46,165.62L328.06,164.82L328.66,164.02L329.25,163.21L329.84,162.41L330.44,161.60L331.03,160.80L331.62,160.00L332.21,159.19L332.79,158.39L333.38,157.58L333.97,156.78L334.56,155.98L335.14,155.17L335.73,154.37L336.32,153.57L336.91,152.77L337.50,151.97L338.09,151.17L338.68,150.37L339.27,149.57L339.86,148.77L340.46,147.98L341.05,147.18L341.65,146.39L342.25,145.60L342.86,144.81L343.46,144.02L344.07,143.23L344.68,142.45L345.29,141.66L345.91,140.88L346.52,140.10L347.14,139.32L347.77,138.55L348.39,137.77L349.02,137.00L349.65,136.23L350.28,135.46L350.92,134.69L351.56,133.93L352.20,133.16L352.84,132.40L353.49,131.64L354.14,130.89L354.79,130.13L355.45,129.38L356.10,128.63L356.76,127.88L357.43,127.14L358.09,126.40L358.76,125.65L359.43,124.92L360.11,124.18L360.79,123.45L361.47,122.72L362.15,121.99L362.84,121.26L363.53,120.54L364.22,119.82L364.91,119.10L365.61,118.39L366.31,117.67L367.02,116.96L367.73,116.26L368.44,115.55L369.15,114.85L369.87,114.16L370.59,113.46L371.31,112.77L372.04,112.08L372.76,111.39L373.50,110.71L374.23,110.03L374.97,109.35L375.71,108.68L376.46,108.01L377.21,107.34L377.96,106.68L378.71,106.02L379.47,105.36L380.23,104.70L381.00,104.05L381.76,103.41L382.53,102.76L383.31,102.12L384.09,101.48L384.87,100.85L385.65,100.22L386.44,99.60L387.23,98.97L388.03,98.35L388.83,97.74L389.63,97.13L390.43,96.52L391.24,95.92L392.05,95.32L392.87,94.72L393.68,94.13L394.51,93.54L395.33,92.96L396.16,92.38L396.99,91.81L397.82,91.23L398.66,90.67L399.50,90.11L400.34,89.55L401.19,89.00L402.03,88.45L402.89,87.91L403.74,87.37L404.60,86.83L405.46,86.30L406.32,85.78L407.18,85.26L408.05,84.75L408.92,84.24L409.79,83.73L410.67,83.23L411.55,82.74L412.43,82.25L413.31,81.77L414.20,81.29L415.08,80.82L415.98,80.35L416.87,79.89L417.76,79.43L418.66,78.98L419.56,78.54L420.46,78.10L421.37,77.67L422.27,77.24L423.18,76.82L424.09,76.40L425.00,75.99L425.92,75.59L426.83,75.19L427.75,74.80L428.67,74.42L429.60,74.04L430.52,73.66L431.45,73.30L432.37,72.94L433.30,72.59L434.23,72.24L435.17,71.90L436.10,71.57L437.04,71.24L437.98,70.92L438.92,70.61L439.86,70.30L440.80,70.00L441.75,69.71L442.69,69.42L443.64,69.13L444.59,68.86L445.54,68.59L446.49,68.32L447.45,68.07L448.40,67.81L449.36,67.57L450.32,67.33L451.28,67.09L452.24,66.86L453.20,66.64L454.16,66.42L455.13,66.21L456.09,66.00L457.06,65.80L458.03,65.60L459.00,65.41L459.97,65.22L460.94,65.04L461.92,64.87L462.89,64.70L463.87,64.53L464.84,64.37L465.82,64.21L466.80,64.06L467.78,63.92L468.76,63.77L469.75,63.64L470.73,63.51L471.71,63.38L472.70,63.25L473.69,63.13L474.67,63.02L475.66,62.91L476.65,62.80L477.64,62.70L478.63,62.60L479.62,62.51L480.62,62.42L481.61,62.33L482.61,62.25L483.60,62.17L484.60,62.10L485.59,62.03L486.59,61.96L487.59,61.90L488.59,61.84L489.59,61.78L490.59,61.73L491.59,61.68L492.59,61.64L493.59,61.59L494.59,61.56L495.60,61.52L496.60,61.49L497.61,61.46L498.61,61.43L499.62,61.41L500.62,61.39L501.63,61.37L502.63,61.35L503.64,61.34L504.65,61.33L505.66,61.32L506.67,61.32L507.67,61.32L508.68,61.32L509.69,61.32L510.70,61.32L511.71,61.33L512.72,61.34L513.73,61.35L514.74,61.37L515.75,61.38L516.76,61.40L517.77,61.42L518.79,61.44L519.80,61.47L520.81,61.49L521.82,61.52L522.83,61.55L523.84,61.58L524.85,61.61L525.87,61.64L526.88,61.68L527.89,61.72L528.90,61.75L529.91,61.79L530.92,61.83L531.93,61.87L532.95,61.92L533.96,61.96L534.97,62.00L535.98,62.05L536.99,62.10L538.00,62.14L539.01,62.19L540.02,62.24L541.03,62.29L542.04,62.34L543.05,62.39L544.05,62.44L545.06,62.49L546.07,62.55L547.08,62.60L548.08,62.65L549.09,62.70L550.10,62.76L551.10,62.81L552.11,62.86L553.11,62.92L554.12,62.97L555.12,63.02L556.13,63.08L557.13,63.13L558.13,63.18L559.13,63.24L560.14,63.29L561.14,63.34L562.14,63.40L563.14,63.45L564.14,63.51L565.14,63.56L566.14,63.61L567.14,63.67L568.14,63.72L569.14,63.77L570.14,63.83L571.14,63.88L572.13,63.93L573.13,63.99L574.13,64.04L575.13,64.09L576.12,64.15L577.12,64.20L578.12,64.25L579.11,64.31L580.11,64.36L581.11,64.41L582.10,64.46L583.10,64.52L584.09,64.57L585.09,64.62L586.08,64.67L587.08,64.72L588.07,64.77L589.07,64.82L590.06,64.88L591.06,64.93L592.05,64.98L593.04,65.03L594.04,65.08L595.03,65.13L596.03,65.18L597.02,65.23L598.01,65.27L599.01,65.32L600.00,65.37L600.99,65.42L601.99,65.47L602.98,65.51L603.97,65.56L604.97,65.61L605.96,65.65L606.95,65.70L607.95,65.75L608.94,65.79L609.93,65.84L610.93,65.88L611.92,65.93L612.92,65.97L613.91,66.01L614.90,66.06L615.90,66.10L616.89,66.14L617.88,66.18L618.88,66.22L619.87,66.27L620.87,66.31L621.86,66.35L622.86,66.39L623.85,66.42L624.85,66.46L625.84,66.50L626.84,66.54L627.83,66.58L628.83,66.61L629.82,66.65L630.82,66.68L631.82,66.72L632.81,66.75L633.81,66.79L634.81,66.82L635.80,66.85L636.80,66.89L637.80,66.92L638.80,66.95L639.79,66.98L640.79,67.01L641.79,67.04L642.79,67.07L643.79,67.09L644.79,67.12L645.79,67.15L646.79,67.17L647.79,67.20L648.79,67.22L649.79,67.25L650.80,67.27L651.80,67.29L652.80,67.31L653.80,67.33L654.81,67.35L655.81,67.37L656.82,67.39L657.82,67.41L658.83,67.43L659.83,67.44L660.84,67.46L661.84,67.47L662.85,67.49L663.86,67.50L664.87,67.51L665.87,67.53L666.88,67.54L667.89,67.55L668.90,67.56L669.91,67.57L670.92,67.57L671.93,67.58L672.95,67.59L673.96,67.59L674.97,67.59L675.99,67.60L677.00,67.60" fill="none" stroke="#FF00FF" stroke-width="1.5" stroke-linejoin="round" stroke-linecap="round"/>
<path d="M68.41,109.30L68.53,110.26L68.66,111.22L68.78,112.19L68.90,113.15L69.02,114.12L69.13,115.09L69.25,116.05L69.35,117.02L69.46,118.00L69.56,118.97L69.66,119.94L69.76,120.91L69.86,121.89L69.95,122.87L70.04,123.84L70.13,124.82L70.21,125.80L70.29,126.78L70.37,127.76L70.45,128.74L70.53,129.72L70.60,130.71L70.67,131.69L70.74,132.68L70.80,133.66L70.87,134.65L70.93,135.64L70.99,136.63L71.05,137.62L71.10,138.61L71.16,139.60L71.21,140.59L71.26,141.58L71.31,142.58L71.35,143.57L71.40,144.57L71.44,145.56L71.48,146.56L71.52,147.55L71.56,148.55L71.59,149.55L71.62,150.55L71.66,151.55L71.69,152.55L71.72,153.55L71.74,154.55L71.77,155.55L71.79,156.55L71.82,157.56L71.84,158.56L71.86,159.56L71.88,160.57L71.89,161.57L71.91,162.58L71.93,163.58L71.94,164.59L71.95,165.59L71.96,166.60L71.97,167.61L71.98,168.62L71.99,169.62L72.00,170.63L72.01,171.64L72.01,172.65L72.02,173.66L72.02,174.67L72.02,175.68L72.03,176.69L72.03,177.70L72.03,178.71L72.03,179.72L72.03,180.73L72.03,181.75L72.02,182.76L72.02,183.77L72.02,184.78L72.02,185.79L72.01,186.81L72.01,187.82L72.00,188.83L72.00,189.84L71.99,190.86L71.99,191.87L71.98,192.88L71.97,193.89L71.97,194.91L71.96,195.92L71.95,196.93L71.95,197.95L71.94,198.96L71.93,199.97L71.93,200.99L71.92,202.00L71.91,203.01L71.91,204.02L71.90,205.04L71.90,206.05L71.89,207.06L71.88,208.07L71.88,209.09L71.87,210.10L71.87,211.11L71.86,212.12L71.86,213.13L71.86,214.14L71.85,215.16L71.85,216.17L71.85,217.18L71.84,218.19L71.84,219.20L71.84,220.21L71.84,221.22L71.84,222.23L71.84,223.24L71.84,224.25L71.84,225.26L71.84,226.26L71.84,227.27L71.84,228.28L71.84,229.29L71.84,230.30L71.85,231.31L71.85,232.32L71.85,233.32L71.85,234.33L71.86,235.34L71.86,236.35L71.86,237.36L71.87,238.36L71.87,239.37L71.88,240.38L71.88,241.39L71.89,242.39L71.89,243.40L71.90,244.41L71.90,245.41L71.91,246.42L71.92,247.43L71.92,248.43L71.93,249.44L71.94,250.45L71.94,251.45L71.95,252.46L71.96,253.47L71.97,254.47L71.98,255.48L71.98,256.48L71.99,257.49L72.00,258.50L72.01,259.50L72.02,260.51L72.03,261.51L72.04,262.52L72.05,263.53L72.06,264.53L72.07,265.54L72.08,266.54L72.09,267.55L72.10,268.55L72.11,269.56L72.12,270.57L72.13,271.57L72.15,272.58L72.16,273.58L72.17,274.59L72.18,275.59L72.19,276.60L72.20,277.61L72.22,278.61L72.23,279.62L72.24,280.62L72.25,281.63L72.27,282.63L72.28,283.64L72.29,284.65L72.30,285.65L72.32,286.66L72.33,287.66L72.34,288.67L72.36,289.68L72.37,290.68L72.38,291.69L72.40,292.69L72.41,293.70L72.42,294.71L72.44,295.71L72.45,296.72L72.46,297.73L72.48,298.73L72.49,299.74L72.50,300.75L72.52,301.75L72.53,302.76L72.55,303.77L72.56,304.78L72.57,305.78L72.59,306.79L72.60,307.80L72.62,308.81L72.63,309.81L72.64,310.82L72.66,311.83L72.67,312.84L72.68,313.85L72.70,314.86L72.71,315.86L72.73,316.87L72.74,317.88L72.75,318.89L72.77,319.90L72.78,320.91L72.79,321.92L72.81,322.93L72.82,323.94L72.83,324.95L72.85,325.96L72.86,326.97L72.87,327.98L72.89,328.99L72.90,330.00L72.90,330.00L72.94,329.02L72.98,328.03L73.03,327.05L73.07,326.06L73.12,325.08L73.18,324.09L73.23,323.10L73.29,322.11L73.35,321.11L73.41,320.12L73.48,319.12L73.54,318.13L73.61,317.13L73.68,316.13L73.76,315.14L73.83,314.14L73.91,313.14L73.99,312.14L74.07,311.13L74.15,310.13L74.24,309.13L74.32,308.12L74.41,307.12L74.50,306.12L74.59,305.11L74.68,304.11L74.78,303.10L74.87,302.09L74.97,301.09L75.07,300.08L75.17,299.07L75.27,298.07L75.37,297.06L75.47,296.05L75.57,295.04L75.68,294.04L75.78,293.03L75.89,292.02L76.00,291.02L76.10,290.01L76.21,289.00L76.32,288.00L76.43,286.99L76.54,285.99L76.65,284.98L76.76,283.98L76.87,282.97L76.98,281.97L77.10,280.97L77.21,279.97L77.32,278.96L77.43,277.96L77.54,276.96L77.65,275.97L77.77,274.97L77.88,273.97L77.99,272.97L78.10,271.98L78.21,270.98L78.32,269.99L78.43,269.00L78.54,268.01L78.65,267.02L78.76,266.03L78.86,265.04L78.97,264.06L79.08,263.07L79.19,262.09L79.29,261.11L79.40,260.13L79.50,259.15L79.61,258.17L79.72,257.19L79.82,256.21L79.93,255.23L80.04,254.25L80.14,253.27L80.25,252.30L80.36,251.32L80.47,250.34L80.58,249.36L80.69,248.39L80.80,247.41L80.91,246.43L81.03,245.46L81.14,244.48L81.26,243.50L81.38,242.52L81.50,241.54L81.62,240.56L81.74,239.58L81.86,238.60L81.99,237.61L82.12,236.63L82.25,235.65L82.38,234.66L82.51,233.67L82.65,232.68L82.79,231.69L82.93,230.70L83.08,229.71L83.22,228.71L83.37,227.72L83.52,226.72L83.68,225.72L83.84,224.72L84.00,223.71L84.16,222.71L84.33,221.70L84.50,220.69L84.67,219.68L84.85,218.66L85.03,217.64L85.22,216.62L85.40,215.60L85.60,214.58L85.79,213.55L85.99,212.52L86.20,211.48L86.41,210.45L86.63,209.42L86.86,208.39L87.10,207.37L87.34,206.35L87.60,205.33L87.88,204.32L88.16,203.33L88.46,202.34L88.78,201.36L89.11,200.39L89.47,199.43L89.84,198.49L90.23,197.57L90.64,196.66L91.07,195.77L91.53,194.90L92.01,194.05L92.51,193.22L93.04,192.41L93.60,191.63L94.19,190.87L94.81,190.13L95.45,189.43L96.13,188.75L96.84,188.10L97.58,187.49L98.34,186.91L99.13,186.36L99.93,185.85L100.76,185.38L101.61,184.95L102.47,184.56L103.35,184.22L104.24,183.92L105.14,183.67L106.05,183.46L106.97,183.31L107.89,183.21L108.81,183.16L109.73,183.17L110.65,183.24L111.57,183.36L112.49,183.54L113.40,183.77L114.31,184.05L115.22,184.38L116.12,184.74L117.02,185.14L117.93,185.58L118.83,186.05L119.73,186.54L120.62,187.06L121.52,187.59L122.42,188.14L123.32,188.70L124.22,189.27L125.12,189.84L126.02,190.42L126.92,190.99L127.82,191.55L128.72,192.11L129.63,192.65L130.54,193.17L131.45,193.67L132.36,194.15L133.28,194.59L134.20,195.01L135.12,195.40L136.05,195.77L136.98,196.11L137.91,196.43L138.85,196.73L139.79,197.01L140.73,197.26L141.67,197.50L142.62,197.73L143.57,197.94L144.52,198.13L145.47,198.32L146.43,198.49L147.39,198.65L148.35,198.81L149.32,198.95L150.28,199.09L151.25,199.23L152.22,199.36L153.20,199.49L154.17,199.62L155.15,199.74L156.13,199.86L157.11,199.97L158.09,200.07L159.08,200.18L160.06,200.28L161.05,200.37L162.04,200.46L163.03,200.55L164.02,200.63L165.02,200.70L166.01,200.78L167.01,200.84L168.00,200.90L169.00,200.96L170.00,201.01L171.00,201.06L172.01,201.11L173.01,201.14L174.01,201.18L175.02,201.21L176.02,201.23L177.03,201.25L178.03,201.26L179.04,201.27L180.05,201.27L181.06,201.27L182.07,201.27L183.07,201.25L184.08,201.24L185.09,201.21L186.10,201.18L187.11,201.15L188.12,201.11L189.13,201.07L190.14,201.02L191.15,200.96L192.16,200.90L193.16,200.84L194.17,200.77L195.18,200.69L196.19,200.61L197.19,200.52L198.20,200.42L199.21,200.32L200.21,200.22L201.21,200.10L202.22,199.99L203.22,199.86L204.22,199.73L205.22,199.60L206.22,199.46L207.22,199.31L208.22,199.16L209.21,199.00L210.21,198.83L211.20,198.66L212.19,198.48L213.18,198.29L214.17,198.10L215.16,197.91L216.14,197.70L217.12,197.49L218.11,197.28L219.09,197.05L220.06,196.83L221.04,196.59L222.01,196.35L222.99,196.10L223.95,195.84L224.92,195.58L225.89,195.31L226.85,195.04L227.81,194.75L228.77,194.47L229.72,194.17L230.68,193.87L231.63,193.56L232.57,193.24L233.52,192.92L234.46,192.59L235.40,192.25L236.33,191.90L237.27,191.55L238.20,191.19L239.12,190.83L240.05,190.45L240.97,190.07L241.89,189.69L242.80,189.29L243.71,188.89L244.62,188.49L245.53,188.07L246.43,187.65L247.33,187.23L248.23,186.79L249.12,186.35L250.01,185.91L250.90,185.46L251.78,185.00L252.66,184.53L253.54,184.06L254.41,183.59L255.29,183.11L256.15,182.62L257.02,182.12L257.88,181.62L258.74,181.12L259.60,180.61L260.45,180.09L261.30,179.57L262.14,179.04L262.99,178.50L263.83,177.96L264.66,177.42L265.50,176.87L266.33,176.32L267.16,175.76L267.98,175.19L268.80,174.62L269.62,174.04L270.43,173.46L271.24,172.88L272.05,172.29L272.85,171.69L273.66,171.09L274.45,170.49L275.25,169.88L276.04,169.27L276.83,168.65L277.61,168.03L278.39,167.40L279.17,166.77L279.95,166.13L280.72,165.49L281.49,164.85L282.25,164.20L283.01,163.55L283.77,162.89L284.53,162.23L285.28,161.57L286.03,160.90L286.77,160.23L287.51,159.56L288.25,158.88L288.98,158.20L289.72,157.51L290.44,156.82L291.17,156.13L291.89,155.43L292.61,154.73L293.32,154.03L294.03,153.32L294.74,152.62L295.44,151.90L296.14,151.19L296.84,150.47L297.54,149.75L298.23,149.03L298.91,148.30L299.60,147.57L300.28,146.84L300.95,146.10L301.62,145.37L302.29,144.63L302.96,143.88L303.62,143.14L304.28,142.39L304.94,141.64L305.59,140.89L306.24,140.14L306.88,139.38L307.52,138.63L308.16,137.87L308.79,137.10L309.43,136.34L310.05,135.57L310.68,134.81L311.30,134.04L311.92,133.27L312.54,132.49L313.15,131.72L313.76,130.94L314.37,130.16L314.98,129.38L315.58,128.60L316.19,127.81L316.79,127.03L317.39,126.24L317.98,125.45L318.58,124.66L319.18,123.87L319.77,123.07L320.36,122.28L320.96,121.48L321.55,120.68L322.14,119.88L322.73,119.07L323.32,118.27L323.91,117.46L324.50,116.66L325.08,115.85L325.67,115.04L326.26,114.22L326.85,113.41L327.44,112.59L328.03,111.78L328.62,110.96L329.21,110.14L329.81,109.32L330.40,108.50L330.99,107.67L331.59,106.85L332.19,106.02L332.79,105.19L333.39,104.37L333.99,103.54L334.59,102.70L335.20,101.87L335.81,101.04L336.42,100.20L337.03,99.36L337.64,98.53L338.26,97.69L338.88,96.85L339.51,96.01L340.13,95.16L340.76,94.32L341.39,93.48L342.03,92.64L342.67,91.80L343.32,90.97L343.97,90.14L344.62,89.32L345.28,88.51L345.95,87.70L346.62,86.91L347.30,86.12L347.98,85.35L348.67,84.60L349.37,83.86L350.08,83.13L350.79,82.42L351.52,81.73L352.25,81.06L352.99,80.41L353.74,79.78L354.49,79.18L355.26,78.60L356.04,78.04L356.83,77.52L357.63,77.02L358.44,76.54L359.26,76.10L360.09,75.70L360.93,75.32L361.79,74.98L362.66,74.67L363.54,74.40L364.43,74.16L365.33,73.95L366.25,73.77L367.17,73.63L368.10,73.51L369.04,73.43L369.98,73.37L370.93,73.33L371.89,73.32L372.85,73.34L373.82,73.37L374.79,73.43L375.76,73.51L376.73,73.61L377.70,73.72L378.68,73.85L379.65,74.00L380.63,74.17L381.60,74.34L382.57,74.53L383.54,74.74L384.50,74.95L385.47,75.18L386.44,75.42L387.40,75.67L388.36,75.93L389.33,76.19L390.29,76.47L391.25,76.75L392.21,77.04L393.17,77.34L394.13,77.64L395.09,77.95L396.05,78.26L397.01,78.58L397.97,78.90L398.93,79.22L399.89,79.54L400.85,79.87L401.81,80.19L402.77,80.52L403.73,80.85L404.69,81.17L405.65,81.49L406.61,81.82L407.57,82.13L408.54,82.45L409.50,82.76L410.46,83.06L411.43,83.36L412.40,83.65L413.36,83.94L414.33,84.22L415.30,84.49L416.27,84.75L417.24,85.00L418.22,85.25L419.19,85.48L420.17,85.70L421.15,85.91L422.13,86.11L423.11,86.29L424.09,86.47L425.08,86.63L426.06,86.79L427.05,86.93L428.04,87.06L429.03,87.19L430.02,87.30L431.01,87.41L432.00,87.50L433.00,87.59L433.99,87.67L434.99,87.74L435.98,87.80L436.98,87.85L437.98,87.90L438.98,87.93L439.98,87.96L440.98,87.99L441.98,88.00L442.98,88.01L443.98,88.02L444.99,88.01L445.99,88.01L446.99,87.99L448.00,87.97L449.00,87.95L450.00,87.92L451.01,87.88L452.01,87.84L453.02,87.80L454.02,87.75L455.03,87.70L456.03,87.64L457.03,87.58L458.04,87.52L459.04,87.46L460.05,87.39L461.05,87.32L462.05,87.25L463.06,87.17L464.06,87.09L465.06,87.02L466.06,86.94L467.06,86.85L468.06,86.77L469.06,86.69L470.06,86.60L471.06,86.51L472.06,86.43L473.06,86.34L474.06,86.25L475.06,86.16L476.06,86.06L477.06,85.97L478.06,85.88L479.05,85.79L480.05,85.69L481.05,85.60L482.05,85.51L483.04,85.42L484.04,85.32L485.04,85.23L486.03,85.14L487.03,85.05L488.03,84.96L489.02,84.87L490.02,84.78L491.02,84.69L492.01,84.61L493.01,84.52L494.00,84.44L495.00,84.36L496.00,84.28L496.99,84.20L497.99,84.12L498.98,84.05L499.98,83.98L500.98,83.91L501.97,83.84L502.97,83.77L503.96,83.71L504.96,83.65L505.96,83.59L506.95,83.53L507.95,83.48L508.95,83.43L509.94,83.39L510.94,83.34L511.94,83.30L512.94,83.27L513.93,83.24L514.93,83.21L515.93,83.18L516.93,83.16L517.93,83.15L518.92,83.13L519.92,83.12L520.92,83.12L521.92,83.12L522.92,83.12L523.92,83.12L524.92,83.13L525.92,83.14L526.92,83.16L527.92,83.17L528.92,83.19L529.92,83.22L530.92,83.24L531.92,83.27L532.92,83.30L533.92,83.34L534.92,83.37L535.92,83.41L536.92,83.45L537.93,83.50L538.93,83.54L539.93,83.59L540.93,83.64L541.93,83.69L542.93,83.74L543.93,83.80L544.94,83.85L545.94,83.91L546.94,83.97L547.94,84.03L548.94,84.09L549.94,84.16L550.95,84.22L551.95,84.29L552.95,84.35L553.95,84.42L554.95,84.49L555.95,84.56L556.96,84.63L557.96,84.70L558.96,84.77L559.96,84.84L560.96,84.91L561.96,84.98L562.96,85.06L563.97,85.13L564.97,85.20L565.97,85.27L566.97,85.34L567.97,85.41L568.97,85.49L569.97,85.56L570.97,85.63L571.97,85.70L572.97,85.77L573.97,85.84L574.97,85.91L575.97,85.98L576.98,86.05L577.98,86.11L578.98,86.18L579.98,86.25L580.98,86.32L581.98,86.38L582.97,86.45L583.97,86.52L584.97,86.58L585.97,86.65L586.97,86.71L587.97,86.78L588.97,86.84L589.97,86.91L590.97,86.97L591.97,87.03L592.97,87.10L593.97,87.16L594.97,87.22L595.97,87.28L596.97,87.34L597.97,87.40L598.96,87.46L599.96,87.52L600.96,87.58L601.96,87.64L602.96,87.70L603.96,87.76L604.96,87.82L605.96,87.87L606.96,87.93L607.96,87.99L608.95,88.04L609.95,88.10L610.95,88.15L611.95,88.21L612.95,88.26L613.95,88.31L614.95,88.36L615.95,88.42L616.95,88.47L617.95,88.52L618.94,88.57L619.94,88.62L620.94,88.67L621.94,88.72L622.94,88.77L623.94,88.81L624.94,88.86L625.94,88.91L626.94,88.95L627.94,89.00L628.94,89.04L629.94,89.09L630.94,89.13L631.94,89.17L632.93,89.22L633.93,89.26L634.93,89.30L635.93,89.34L636.93,89.38L637.93,89.42L638.93,89.46L639.93,89.49L640.93,89.53L641.93,89.57L642.93,89.60L643.93,89.64L644.93,89.67L645.93,89.71L646.94,89.74L647.94,89.77L648.94,89.81L649.94,89.84L650.94,89.87L651.94,89.90L652.94,89.93L653.94,89.95L654.94,89.98L655.94,90.01L656.95,90.04L657.95,90.06L658.95,90.09L659.95,90.11L660.95,90.13L661.95,90.16L662.96,90.18L663.96,90.20L664.96,90.22L665.96,90.24L666.97,90.26L667.97,90.27L668.97,90.29L669.97,90.31L670.98,90.32L671.98,90.34L672.98,90.35L673.99,90.37L674.99,90.38L676.00,90.39L677.00,90.40" fill="none" stroke="#FF0080" stroke-width="1.5" stroke-linejoin="round" stroke-linecap="round"/>
<path d="M68.40,104.20L68.44,105.21L68.48,106.22L68.52,107.23L68.56,108.24L68.60,109.26L68.64,110.27L68.68,111.28L68.72,112.29L68.76,113.30L68.80,114.31L68.84,115.32L68.88,116.33L68.91,117.34L68.95,118.35L68.99,119.37L69.03,120.38L69.07,121.39L69.11,122.40L69.15,123.41L69.18,124.42L69.22,125.43L69.26,126.44L69.30,127.45L69.33,128.47L69.37,129.48L69.41,130.49L69.45,131.50L69.48,132.51L69.52,133.52L69.56,134.53L69.59,135.54L69.63,136.55L69.67,137.57L69.70,138.58L69.74,139.59L69.78,140.60L69.81,141.61L69.85,142.62L69.89,143.63L69.92,144.64L69.96,145.65L69.99,146.67L70.03,147.68L70.06,148.69L70.10,149.70L70.14,150.71L70.17,151.72L70.21,152.73L70.24,153.74L70.28,154.76L70.31,155.77L70.35,156.78L70.38,157.79L70.42,158.80L70.45,159.81L70.49,160.82L70.52,161.83L70.56,162.85L70.59,163.86L70.62,164.87L70.66,165.88L70.69,166.89L70.73,167.90L70.76,168.91L70.80,169.92L70.83,170.93L70.86,171.95L70.90,172.96L70.93,173.97L70.97,174.98L71.00,175.99L71.03,177.00L71.07,178.01L71.10,179.02L71.14,180.04L71.17,181.05L71.20,182.06L71.24,183.07L71.27,184.08L71.30,185.09L71.34,186.10L71.37,187.11L71.40,188.13L71.44,189.14L71.47,190.15L71.50,191.16L71.54,192.17L71.57,193.18L71.60,194.19L71.64,195.20L71.67,196.22L71.70,197.23L71.74,198.24L71.77,199.25L71.80,200.26L71.84,201.27L71.87,202.28L71.90,203.29L71.94,204.31L71.97,205.32L72.00,206.33L72.04,207.34L72.07,208.35L72.10,209.36L72.13,210.37L72.17,211.38L72.20,212.40L72.23,213.41L72.27,214.42L72.30,215.43L72.33,216.44L72.37,217.45L72.40,218.46L72.43,219.48L72.47,220.49L72.50,221.50L72.53,222.51L72.57,223.52L72.60,224.53L72.63,225.54L72.67,226.55L72.70,227.57L72.73,228.58L72.76,229.59L72.80,230.60L72.83,231.61L72.87,232.62L72.90,233.63L72.93,234.64L72.97,235.66L73.00,236.67L73.03,237.68L73.07,238.69L73.10,239.70L73.10,239.70L74.03,239.15L74.94,238.58L75.82,237.99L76.67,237.37L77.49,236.74L78.29,236.09L79.06,235.43L79.80,234.74L80.52,234.04L81.22,233.32L81.89,232.58L82.54,231.83L83.17,231.06L83.77,230.28L84.36,229.48L84.92,228.67L85.47,227.85L85.99,227.01L86.50,226.16L86.99,225.29L87.46,224.42L87.91,223.53L88.35,222.64L88.78,221.73L89.18,220.82L89.58,219.89L89.96,218.96L90.33,218.01L90.68,217.06L91.03,216.10L91.36,215.14L91.68,214.17L91.99,213.19L92.30,212.20L92.59,211.21L92.88,210.22L93.16,209.22L93.43,208.22L93.70,207.22L93.96,206.21L94.21,205.20L94.47,204.19L94.71,203.18L94.96,202.16L95.20,201.15L95.44,200.14L95.68,199.12L95.92,198.11L96.16,197.10L96.40,196.09L96.64,195.08L96.88,194.08L97.13,193.08L97.38,192.08L97.63,191.09L97.89,190.10L98.15,189.12L98.42,188.14L98.69,187.17L98.97,186.21L99.26,185.25L99.56,184.30L99.86,183.36L100.18,182.42L100.50,181.50L100.50,181.50L100.93,182.31L101.33,183.14L101.71,183.99L102.06,184.85L102.39,185.74L102.70,186.65L102.98,187.57L103.24,188.51L103.49,189.46L103.71,190.43L103.92,191.41L104.12,192.40L104.30,193.41L104.47,194.42L104.62,195.45L104.77,196.48L104.91,197.52L105.04,198.57L105.16,199.62L105.28,200.68L105.40,201.75L105.51,202.82L105.62,203.89L105.73,204.96L105.85,206.03L105.96,207.11L106.08,208.18L106.21,209.25L106.34,210.32L106.48,211.38L106.63,212.44L106.79,213.49L106.96,214.54L107.14,215.58L107.34,216.61L107.55,217.63L107.78,218.65L108.03,219.65L108.29,220.64L108.58,221.62L108.89,222.58L109.22,223.53L109.58,224.47L109.96,225.38L110.37,226.29L110.80,227.17L111.26,228.03L111.75,228.87L112.27,229.69L112.82,230.48L113.39,231.25L113.99,231.99L114.61,232.69L115.27,233.37L115.95,234.01L116.66,234.62L117.39,235.19L118.16,235.73L118.95,236.22L119.77,236.68L120.62,237.09L121.49,237.45L122.39,237.77L123.32,238.04L124.28,238.27L125.25,238.45L126.25,238.59L127.26,238.69L128.27,238.75L129.30,238.79L130.33,238.79L131.35,238.77L132.37,238.73L133.38,238.66L134.38,238.58L135.37,238.47L136.36,238.35L137.33,238.20L138.30,238.04L139.27,237.85L140.22,237.65L141.17,237.43L142.10,237.19L143.04,236.93L143.96,236.65L144.88,236.36L145.78,236.04L146.69,235.71L147.58,235.37L148.47,235.00L149.34,234.62L150.22,234.23L151.08,233.82L151.94,233.39L152.79,232.95L153.63,232.49L154.47,232.02L155.30,231.53L156.12,231.03L156.94,230.52L157.75,229.99L158.55,229.45L159.35,228.89L160.14,228.32L160.92,227.74L161.70,227.15L162.47,226.54L163.24,225.93L163.99,225.30L164.75,224.66L165.49,224.01L166.23,223.34L166.97,222.67L167.69,221.99L168.41,221.30L169.13,220.60L169.84,219.88L170.54,219.16L171.24,218.43L171.93,217.70L172.62,216.95L173.30,216.20L173.98,215.43L174.65,214.66L175.31,213.89L175.97,213.10L176.63,212.31L177.28,211.51L177.92,210.71L178.56,209.90L179.19,209.09L179.82,208.27L180.44,207.44L181.06,206.61L181.68,205.77L182.28,204.94L182.89,204.09L183.49,203.24L184.08,202.39L184.67,201.54L185.26,200.68L185.84,199.82L186.41,198.96L186.99,198.10L187.55,197.23L188.12,196.36L188.68,195.49L189.23,194.62L189.78,193.75L190.33,192.88L190.87,192.01L191.41,191.14L191.94,190.26L192.47,189.39L193.00,188.52L193.53,187.64L194.05,186.77L194.56,185.89L195.08,185.02L195.59,184.15L196.09,183.27L196.60,182.40L197.10,181.52L197.60,180.65L198.10,179.77L198.59,178.89L199.08,178.02L199.57,177.14L200.05,176.27L200.54,175.39L201.02,174.51L201.50,173.64L201.98,172.76L202.45,171.89L202.93,171.01L203.40,170.13L203.87,169.26L204.34,168.38L204.81,167.51L205.28,166.63L205.74,165.76L206.21,164.88L206.67,164.00L207.14,163.13L207.60,162.25L208.06,161.38L208.52,160.51L208.98,159.63L209.44,158.76L209.90,157.88L210.36,157.01L210.82,156.14L211.28,155.26L211.74,154.39L212.20,153.52L212.66,152.65L213.12,151.78L213.58,150.91L214.04,150.04L214.50,149.17L214.96,148.30L215.43,147.43L215.89,146.56L216.36,145.69L216.82,144.82L217.29,143.96L217.76,143.09L218.23,142.22L218.70,141.36L219.17,140.50L219.65,139.63L220.12,138.77L220.60,137.91L221.08,137.04L221.57,136.18L222.05,135.32L222.54,134.46L223.03,133.60L223.52,132.74L224.01,131.89L224.51,131.03L225.01,130.17L225.51,129.32L226.02,128.47L226.53,127.61L227.04,126.76L227.55,125.91L228.07,125.06L228.59,124.21L229.12,123.36L229.65,122.51L230.18,121.66L230.72,120.82L231.26,119.97L231.80,119.13L232.35,118.29L232.90,117.45L233.46,116.60L234.02,115.77L234.58,114.93L235.15,114.09L235.73,113.25L236.30,112.42L236.89,111.59L237.47,110.76L238.07,109.93L238.66,109.10L239.26,108.28L239.87,107.46L240.48,106.64L241.09,105.82L241.71,105.01L242.34,104.20L242.97,103.39L243.60,102.59L244.24,101.79L244.88,101.00L245.52,100.20L246.18,99.42L246.83,98.63L247.49,97.85L248.16,97.08L248.83,96.31L249.50,95.54L250.18,94.78L250.87,94.02L251.55,93.27L252.25,92.53L252.95,91.79L253.65,91.05L254.36,90.32L255.07,89.60L255.79,88.88L256.51,88.17L257.24,87.47L257.97,86.77L258.70,86.08L259.45,85.40L260.19,84.72L260.94,84.05L261.70,83.39L262.46,82.74L263.23,82.09L264.00,81.45L264.77,80.82L265.56,80.19L266.34,79.58L267.13,78.97L267.93,78.37L268.73,77.78L269.53,77.20L270.34,76.63L271.16,76.07L271.98,75.51L272.81,74.97L273.64,74.43L274.47,73.91L275.31,73.39L276.16,72.89L277.01,72.39L277.87,71.90L278.73,71.43L279.60,70.97L280.47,70.51L281.34,70.07L282.23,69.64L283.11,69.22L284.01,68.81L284.90,68.41L285.81,68.03L286.71,67.65L287.63,67.29L288.54,66.94L289.47,66.60L290.40,66.28L291.33,65.96L292.27,65.66L293.21,65.37L294.16,65.09L295.12,64.83L296.07,64.57L297.03,64.32L298.00,64.09L298.97,63.86L299.94,63.65L300.92,63.44L301.90,63.25L302.88,63.06L303.87,62.88L304.86,62.71L305.85,62.55L306.85,62.40L307.84,62.25L308.84,62.11L309.84,61.98L310.85,61.86L311.85,61.74L312.86,61.64L313.87,61.53L314.88,61.44L315.89,61.35L316.91,61.26L317.92,61.18L318.94,61.11L319.95,61.04L320.97,60.98L321.99,60.92L323.00,60.86L324.02,60.81L325.04,60.76L326.05,60.72L327.07,60.68L328.09,60.64L329.10,60.61L330.12,60.57L331.13,60.54L332.14,60.52L333.15,60.49L334.16,60.47L335.17,60.45L336.18,60.43L337.19,60.41L338.20,60.39L339.20,60.38L340.21,60.37L341.22,60.36L342.22,60.35L343.22,60.34L344.23,60.34L345.23,60.34L346.23,60.33L347.23,60.33L348.24,60.33L349.24,60.34L350.24,60.34L351.24,60.34L352.24,60.35L353.24,60.35L354.23,60.36L355.23,60.37L356.23,60.38L357.23,60.39L358.23,60.40L359.23,60.41L360.22,60.42L361.22,60.43L362.22,60.44L363.22,60.45L364.21,60.47L365.21,60.48L366.21,60.49L367.20,60.51L368.20,60.52L369.20,60.53L370.20,60.55L371.19,60.56L372.19,60.57L373.19,60.59L374.19,60.60L375.19,60.61L376.19,60.62L377.18,60.64L378.18,60.65L379.18,60.66L380.18,60.67L381.18,60.69L382.18,60.70L383.18,60.71L384.18,60.72L385.18,60.73L386.18,60.75L387.18,60.76L388.18,60.77L389.18,60.78L390.18,60.79L391.18,60.81L392.18,60.82L393.18,60.83L394.18,60.84L395.18,60.85L396.19,60.86L397.19,60.87L398.19,60.89L399.19,60.90L400.19,60.91L401.19,60.92L402.19,60.93L403.20,60.94L404.20,60.95L405.20,60.96L406.20,60.97L407.20,60.98L408.21,61.00L409.21,61.01L410.21,61.02L411.21,61.03L412.22,61.04L413.22,61.05L414.22,61.06L415.23,61.07L416.23,61.08L417.23,61.09L418.23,61.10L419.24,61.12L420.24,61.13L421.24,61.14L422.25,61.15L423.25,61.16L424.25,61.17L425.26,61.18L426.26,61.19L427.26,61.20L428.27,61.21L429.27,61.22L430.28,61.24L431.28,61.25L432.28,61.26L433.29,61.27L434.29,61.28L435.29,61.29L436.30,61.30L437.30,61.31L438.31,61.32L439.31,61.34L440.31,61.35L441.32,61.36L442.32,61.37L443.33,61.38L444.33,61.39L445.34,61.41L446.34,61.42L447.34,61.43L448.35,61.44L449.35,61.45L450.36,61.46L451.36,61.48L452.36,61.49L453.37,61.50L454.37,61.51L455.38,61.53L456.38,61.54L457.39,61.55L458.39,61.56L459.39,61.58L460.40,61.59L461.40,61.60L462.41,61.62L463.41,61.63L464.41,61.64L465.42,61.66L466.42,61.67L467.43,61.68L468.43,61.70L469.43,61.71L470.44,61.72L471.44,61.74L472.45,61.75L473.45,61.77L474.45,61.78L475.46,61.80L476.46,61.81L477.46,61.83L478.47,61.84L479.47,61.86L480.47,61.87L481.48,61.89L482.48,61.90L483.49,61.92L484.49,61.93L485.49,61.95L486.50,61.96L487.50,61.98L488.50,61.99L489.51,62.01L490.51,62.03L491.51,62.04L492.51,62.06L493.52,62.07L494.52,62.09L495.52,62.11L496.53,62.12L497.53,62.14L498.53,62.16L499.54,62.17L500.54,62.19L501.54,62.21L502.55,62.22L503.55,62.24L504.55,62.26L505.55,62.27L506.56,62.29L507.56,62.31L508.56,62.32L509.57,62.34L510.57,62.36L511.57,62.37L512.57,62.39L513.58,62.41L514.58,62.42L515.58,62.44L516.58,62.46L517.59,62.48L518.59,62.49L519.59,62.51L520.59,62.53L521.60,62.54L522.60,62.56L523.60,62.58L524.60,62.60L525.61,62.61L526.61,62.63L527.61,62.65L528.61,62.67L529.62,62.68L530.62,62.70L531.62,62.72L532.62,62.73L533.63,62.75L534.63,62.77L535.63,62.79L536.63,62.80L537.64,62.82L538.64,62.84L539.64,62.85L540.64,62.87L541.65,62.89L542.65,62.90L543.65,62.92L544.65,62.94L545.65,62.95L546.66,62.97L547.66,62.99L548.66,63.00L549.66,63.02L550.67,63.04L551.67,63.05L552.67,63.07L553.67,63.09L554.67,63.10L555.68,63.12L556.68,63.13L557.68,63.15L558.68,63.17L559.68,63.18L560.69,63.20L561.69,63.21L562.69,63.23L563.69,63.24L564.70,63.26L565.70,63.27L566.70,63.29L567.70,63.31L568.70,63.32L569.71,63.34L570.71,63.35L571.71,63.36L572.71,63.38L573.71,63.39L574.72,63.41L575.72,63.42L576.72,63.44L577.72,63.45L578.72,63.46L579.73,63.48L580.73,63.49L581.73,63.51L582.73,63.52L583.74,63.53L584.74,63.55L585.74,63.56L586.74,63.57L587.74,63.58L588.75,63.60L589.75,63.61L590.75,63.62L591.75,63.63L592.76,63.65L593.76,63.66L594.76,63.67L595.76,63.68L596.76,63.69L597.77,63.70L598.77,63.72L599.77,63.73L600.77,63.74L601.78,63.75L602.78,63.76L603.78,63.77L604.78,63.78L605.78,63.79L606.79,63.80L607.79,63.81L608.79,63.82L609.79,63.83L610.80,63.84L611.80,63.84L612.80,63.85L613.80,63.86L614.81,63.87L615.81,63.88L616.81,63.89L617.81,63.89L618.82,63.90L619.82,63.91L620.82,63.91L621.82,63.92L622.83,63.93L623.83,63.93L624.83,63.94L625.83,63.95L626.84,63.95L627.84,63.96L628.84,63.96L629.84,63.97L630.85,63.97L631.85,63.98L632.85,63.98L633.86,63.99L634.86,63.99L635.86,63.99L636.86,64.00L637.87,64.00L638.87,64.00L639.87,64.00L640.88,64.01L641.88,64.01L642.88,64.01L643.88,64.01L644.89,64.01L645.89,64.01L646.89,64.01L647.90,64.02L648.90,64.02L649.90,64.02L650.91,64.01L651.91,64.01L652.91,64.01L653.92,64.01L654.92,64.01L655.92,64.01L656.93,64.01L657.93,64.00L658.93,64.00L659.94,64.00L660.94,63.99L661.94,63.99L662.95,63.99L663.95,63.98L664.95,63.98L665.96,63.97L666.96,63.97L667.97,63.96L668.97,63.96L669.97,63.95L670.98,63.94L671.98,63.94L672.98,63.93L673.99,63.92L674.99,63.92L676.00,63.91L677.00,63.90" fill="none" stroke="#000080" stroke-width="1.5" stroke-linejoin="round" stroke-linecap="round"/>
<rect x="53.00" y="7.40" width="623.90" height="416.10" fill="none" stroke="#555" stroke-width="1.3"/>
<path d="M53.00,33.41h2.00M53.00,59.41h3.70M53.00,85.42h2.00M53.00,111.43h3.70M53.00,137.43h2.00M53.00,163.44h3.70M53.00,189.44h2.00M53.00,215.45h3.70M53.00,241.46h2.00M53.00,267.46h3.70M53.00,293.47h2.00M53.00,319.48h3.70M53.00,345.48h2.00M53.00,371.49h3.70M53.00,397.49h2.00M91.99,423.50v-2.00M130.99,423.50v-3.50M169.98,423.50v-2.00M208.97,423.50v-3.50M247.97,423.50v-2.00M286.96,423.50v-3.50M325.96,423.50v-2.00M364.95,423.50v-3.50M403.94,423.50v-2.00M442.94,423.50v-3.50M481.93,423.50v-2.00M520.92,423.50v-3.50M559.92,423.50v-2.00M598.91,423.50v-3.50M637.91,423.50v-2.00" stroke="#555" stroke-width="1.2" fill="none"/>
<text x="47.8" y="12.30" font-family="Liberation Serif" font-size="17" fill="#000" text-anchor="end">0,5</text>
<text x="47.8" y="64.31" font-family="Liberation Serif" font-size="17" fill="#000" text-anchor="end">0,0</text>
<text x="47.8" y="116.33" font-family="Liberation Serif" font-size="17" fill="#000" text-anchor="end">-0,5</text>
<text x="47.8" y="168.34" font-family="Liberation Serif" font-size="17" fill="#000" text-anchor="end">-1,0</text>
<text x="47.8" y="220.35" font-family="Liberation Serif" font-size="17" fill="#000" text-anchor="end">-1,5</text>
<text x="47.8" y="272.36" font-family="Liberation Serif" font-size="17" fill="#000" text-anchor="end">-2,0</text>
<text x="47.8" y="324.38" font-family="Liberation Serif" font-size="17" fill="#000" text-anchor="end">-2,5</text>
<text x="47.8" y="376.39" font-family="Liberation Serif" font-size="17" fill="#000" text-anchor="end">-3,0</text>
<text x="47.8" y="428.40" font-family="Liberation Serif" font-size="17" fill="#000" text-anchor="end">-3,5</text>
<text x="51.90" y="439.5" font-family="Liberation Serif" font-size="17" fill="#000" text-anchor="middle">2</text>
<text x="129.89" y="439.5" font-family="Liberation Serif" font-size="17" fill="#000" text-anchor="middle">4</text>
<text x="207.88" y="439.5" font-family="Liberation Serif" font-size="17" fill="#000" text-anchor="middle">6</text>
<text x="285.86" y="439.5" font-family="Liberation Serif" font-size="17" fill="#000" text-anchor="middle">8</text>
<text x="365.10" y="439.5" font-family="Liberation Serif" font-size="17" fill="#000" text-anchor="middle">10</text>
<text x="443.09" y="439.5" font-family="Liberation Serif" font-size="17" fill="#000" text-anchor="middle">12</text>
<text x="521.07" y="439.5" font-family="Liberation Serif" font-size="17" fill="#000" text-anchor="middle">14</text>
<text x="599.06" y="439.5" font-family="Liberation Serif" font-size="17" fill="#000" text-anchor="middle">16</text>
<text x="677.05" y="439.5" font-family="Liberation Serif" font-size="17" fill="#000" text-anchor="middle">18</text>
<text transform="translate(338.03 472) scale(1.12 1)" x="0" y="0" font-family="Liberation Serif" font-weight="bold" font-size="19.4">R(a.u)</text>
<text transform="translate(13.9 271.91) rotate(-90) scale(1.02 1)" x="0" y="0" font-family="Liberation Serif" font-weight="bold" font-size="19.4">TDM (a.u)</text>
<text x="137.66" y="53.00" font-family="Liberation Sans" font-size="15.0" fill="#0000FF">1</text><text transform="translate(148.40 42.70) scale(0.75 1)" x="-1.23" y="0" font-family="Liberation Serif" font-size="14.0" fill="#0000FF">1</text><text x="154.40" y="53.70" font-family="Liberation Serif" font-size="13.7" fill="#0000FF">Π</text><path d="M166.60,48.50H180.90" stroke="#0000FF" stroke-width="1.25" fill="none"/><path d="M183.10,48.50L178.40,44.20L180.50,48.50L178.40,52.80Z" fill="#0000FF" stroke="#0000FF" stroke-width="0.9" stroke-linejoin="round"/><text x="185.15" y="53.00" font-family="Liberation Sans" font-size="15.0" fill="#0000FF">2</text><text transform="translate(196.20 42.70) scale(0.75 1)" x="-1.23" y="0" font-family="Liberation Serif" font-size="14.0" fill="#0000FF">1</text><text x="201.90" y="53.70" font-family="Liberation Serif" font-size="13.7" fill="#0000FF">Π</text>
<text x="260.06" y="50.50" font-family="Liberation Serif" font-size="15" fill="#FF0000">B</text><text transform="translate(271.80 40.20) scale(0.75 1)" x="-1.23" y="0" font-family="Liberation Serif" font-size="14.0" fill="#FF0000">1</text><text x="277.58" y="51.20" font-family="Liberation Serif" font-size="14.5" fill="#FF0000">Π</text><path d="M289.70,46.00H304.10" stroke="#0000FF" stroke-width="1.25" fill="none"/><path d="M306.30,46.00L301.60,41.70L303.70,46.00L301.60,50.30Z" fill="#0000FF" stroke="#0000FF" stroke-width="0.9" stroke-linejoin="round"/><text x="308.92" y="50.50" font-family="Liberation Serif" font-size="15.5" fill="#FF0000">2</text><text transform="translate(319.20 40.20) scale(0.75 1)" x="-1.23" y="0" font-family="Liberation Serif" font-size="14.0" fill="#FF0000">1</text><text x="324.48" y="51.20" font-family="Liberation Serif" font-size="14.5" fill="#FF0000">Π</text>
<text x="536.36" y="106.50" font-family="Liberation Sans" font-size="15.0" fill="#008000">1</text><text transform="translate(547.10 96.20) scale(0.75 1)" x="-1.23" y="0" font-family="Liberation Serif" font-size="14.0" fill="#008000">1</text><text x="553.10" y="107.20" font-family="Liberation Serif" font-size="13.7" fill="#008000">Π</text><path d="M565.30,102.00H579.60" stroke="#0000FF" stroke-width="1.25" fill="none"/><path d="M581.80,102.00L577.10,97.70L579.20,102.00L577.10,106.30Z" fill="#0000FF" stroke="#0000FF" stroke-width="0.9" stroke-linejoin="round"/><text x="584.03" y="106.50" font-family="Liberation Sans" font-size="15.0" fill="#008000">3</text><text transform="translate(594.90 96.20) scale(0.75 1)" x="-1.23" y="0" font-family="Liberation Serif" font-size="14.0" fill="#008000">1</text><text x="600.60" y="107.20" font-family="Liberation Serif" font-size="13.7" fill="#008000">Π</text>
<text x="188.05" y="235.50" font-family="Liberation Sans" font-size="15.0" fill="#FF00FF">2</text><text transform="translate(198.40 225.20) scale(0.75 1)" x="-1.23" y="0" font-family="Liberation Serif" font-size="14.0" fill="#FF00FF">1</text><text x="204.40" y="236.20" font-family="Liberation Serif" font-size="13.7" fill="#FF00FF">Π</text><path d="M216.60,231.00H230.90" stroke="#0000FF" stroke-width="1.25" fill="none"/><path d="M233.10,231.00L228.40,226.70L230.50,231.00L228.40,235.30Z" fill="#0000FF" stroke="#0000FF" stroke-width="0.9" stroke-linejoin="round"/><text x="235.33" y="235.50" font-family="Liberation Sans" font-size="15.0" fill="#FF00FF">3</text><text transform="translate(246.20 225.20) scale(0.75 1)" x="-1.23" y="0" font-family="Liberation Serif" font-size="14.0" fill="#FF00FF">1</text><text x="251.90" y="236.20" font-family="Liberation Serif" font-size="13.7" fill="#FF00FF">Π</text>
<text x="80.83" y="299.20" font-family="Liberation Sans" font-size="15.0" fill="#000080">3</text><text transform="translate(91.00 288.90) scale(0.75 1)" x="-1.23" y="0" font-family="Liberation Serif" font-size="14.0" fill="#000080">1</text><text x="97.00" y="299.90" font-family="Liberation Serif" font-size="13.7" fill="#000080">Π</text><path d="M109.20,294.70H123.50" stroke="#0000FF" stroke-width="1.25" fill="none"/><path d="M125.70,294.70L121.00,290.40L123.10,294.70L121.00,299.00Z" fill="#0000FF" stroke="#0000FF" stroke-width="0.9" stroke-linejoin="round"/><text x="128.16" y="299.20" font-family="Liberation Sans" font-size="15.0" fill="#000080">4</text><text transform="translate(138.80 288.90) scale(0.75 1)" x="-1.23" y="0" font-family="Liberation Serif" font-size="14.0" fill="#000080">1</text><text x="144.50" y="299.90" font-family="Liberation Serif" font-size="13.7" fill="#000080">Π</text>
<text x="519.47" y="272.80" font-family="Liberation Sans" font-size="15.0" fill="#000000">B</text><text transform="translate(532.00 262.50) scale(0.75 1)" x="-1.23" y="0" font-family="Liberation Serif" font-size="14.0" fill="#000000">1</text><text x="537.80" y="273.50" font-family="Liberation Serif" font-size="13.7" fill="#000000">Π</text><path d="M549.90,268.30H564.30" stroke="#0000FF" stroke-width="1.25" fill="none"/><path d="M566.50,268.30L561.80,264.00L563.90,268.30L561.80,272.60Z" fill="#0000FF" stroke="#0000FF" stroke-width="0.9" stroke-linejoin="round"/><text x="568.66" y="272.80" font-family="Liberation Sans" font-size="15.0" fill="#000000">1</text><text transform="translate(579.40 262.50) scale(0.75 1)" x="-1.23" y="0" font-family="Liberation Serif" font-size="14.0" fill="#000000">1</text><text x="584.70" y="273.50" font-family="Liberation Serif" font-size="13.7" fill="#000000">Π</text>
<text x="238.43" y="365.00" font-family="Liberation Sans" font-size="15.0" fill="#990000">3</text><text transform="translate(248.60 354.70) scale(0.75 1)" x="-1.23" y="0" font-family="Liberation Serif" font-size="14.0" fill="#990000">1</text><text x="254.60" y="365.70" font-family="Liberation Serif" font-size="13.7" fill="#990000">Π</text><path d="M266.80,360.50H281.10" stroke="#0000FF" stroke-width="1.25" fill="none"/><path d="M283.30,360.50L278.60,356.20L280.70,360.50L278.60,364.80Z" fill="#0000FF" stroke="#0000FF" stroke-width="0.9" stroke-linejoin="round"/><text x="285.50" y="365.00" font-family="Liberation Sans" font-size="15.0" fill="#990000">5</text><text transform="translate(296.40 354.70) scale(0.75 1)" x="-1.23" y="0" font-family="Liberation Serif" font-size="14.0" fill="#990000">1</text><text x="302.10" y="365.70" font-family="Liberation Serif" font-size="13.7" fill="#990000">Π</text>
<text x="412.65" y="358.50" font-family="Liberation Sans" font-size="15.0" fill="#990000">2</text><text transform="translate(423.00 348.20) scale(0.75 1)" x="-1.23" y="0" font-family="Liberation Serif" font-size="14.0" fill="#990000">1</text><text x="429.00" y="359.20" font-family="Liberation Serif" font-size="13.7" fill="#990000">Π</text><path d="M441.20,354.00H455.50" stroke="#0000FF" stroke-width="1.25" fill="none"/><path d="M457.70,354.00L453.00,349.70L455.10,354.00L453.00,358.30Z" fill="#0000FF" stroke="#0000FF" stroke-width="0.9" stroke-linejoin="round"/><text x="460.15" y="358.50" font-family="Liberation Sans" font-size="15.0" fill="#990000">4</text><text transform="translate(470.80 348.20) scale(0.75 1)" x="-1.23" y="0" font-family="Liberation Serif" font-size="14.0" fill="#990000">1</text><text x="476.50" y="359.20" font-family="Liberation Serif" font-size="13.7" fill="#990000">Π</text>
<path d="M293.30,46.90L298.71,80.53" stroke="#000" stroke-width="1.1"/>
<path d="M300.30,90.40L295.55,81.04L301.87,80.02Z" fill="#000"/>
<path d="M240.40,219.80L255.64,202.76" stroke="#000" stroke-width="1.1"/>
<path d="M262.30,195.30L258.02,204.89L253.25,200.62Z" fill="#000"/>
<path d="M121.30,278.70L124.03,250.85" stroke="#000" stroke-width="1.1"/>
<path d="M125.00,240.90L127.21,251.16L120.84,250.54Z" fill="#000"/>
</svg></body></html>
